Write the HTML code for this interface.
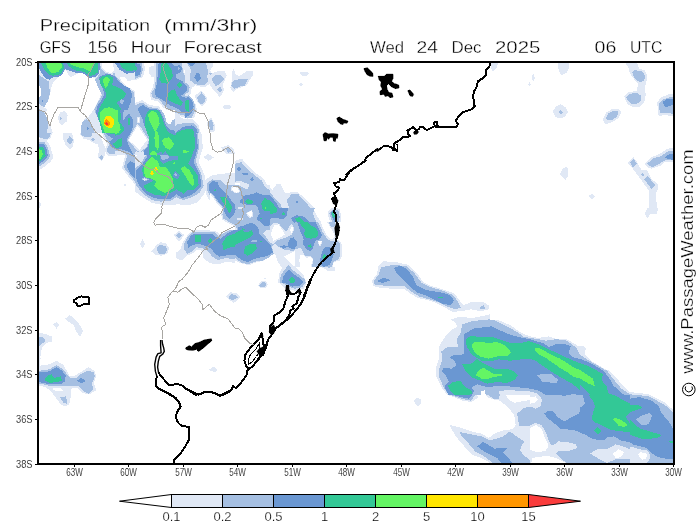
<!DOCTYPE html>
<html><head><meta charset="utf-8"><title>Precipitation</title>
<style>
html,body{margin:0;padding:0;background:#fff;}
svg{display:block;font-family:"Liberation Sans",sans-serif;}
.t{font-size:16px;fill:#000;stroke:#fff;stroke-width:0.3px;}
.ax{font-size:10px;fill:#000;stroke:#fff;stroke-width:0.15px;}
.cb{font-size:13px;fill:#000;stroke:#fff;stroke-width:0.25px;}
</style></head><body>
<svg width="700" height="525" viewBox="0 0 700 525">
<rect width="700" height="525" fill="#fff"/>
<defs><filter id="idf" x="-5%" y="-5%" width="110%" height="110%"><feOffset dx="0" dy="0"/></filter><clipPath id="c0"><rect x="35.0" y="58.0" width="100.0" height="75.0"/></clipPath>
<clipPath id="c1"><rect x="135.0" y="58.0" width="100.0" height="75.0"/></clipPath>
<clipPath id="c2"><rect x="235.0" y="58.0" width="100.0" height="75.0"/></clipPath>
<clipPath id="c3"><rect x="35.0" y="133.0" width="100.0" height="75.0"/></clipPath>
<clipPath id="c4"><rect x="135.0" y="133.0" width="100.0" height="75.0"/></clipPath>
<clipPath id="c5"><rect x="235.0" y="133.0" width="100.0" height="75.0"/></clipPath>
<clipPath id="c6"><rect x="135.0" y="208.0" width="100.0" height="75.0"/></clipPath>
<clipPath id="c7"><rect x="235.0" y="208.0" width="100.0" height="75.0"/></clipPath>
<clipPath id="c8"><rect x="335.0" y="195.0" width="35.0" height="75.0"/></clipPath>
<clipPath id="c9"><rect x="35.0" y="283.0" width="100.0" height="75.0"/></clipPath>
<clipPath id="c10"><rect x="135.0" y="283.0" width="100.0" height="75.0"/></clipPath>
<clipPath id="c11"><rect x="235.0" y="283.0" width="100.0" height="75.0"/></clipPath>
<clipPath id="c12"><rect x="35.0" y="358.0" width="100.0" height="75.0"/></clipPath>
<clipPath id="c13"><rect x="370.0" y="245.0" width="120.0" height="90.0"/></clipPath>
<clipPath id="c14"><rect x="580.0" y="58.0" width="100.0" height="75.0"/></clipPath>
<clipPath id="c15"><rect x="480.0" y="58.0" width="100.0" height="75.0"/></clipPath>
<clipPath id="c16"><rect x="580.0" y="133.0" width="100.0" height="75.0"/></clipPath>
<clipPath id="c17"><rect x="580.0" y="208.0" width="100.0" height="75.0"/></clipPath>
<clipPath id="c18"><rect x="480.0" y="133.0" width="100.0" height="75.0"/></clipPath>
<clipPath id="c19"><rect x="430.0" y="320.0" width="100.0" height="75.0"/></clipPath>
<clipPath id="c20"><rect x="530.0" y="320.0" width="100.0" height="75.0"/></clipPath>
<clipPath id="c21"><rect x="580.0" y="370.0" width="100.0" height="75.0"/></clipPath>
<clipPath id="c22"><rect x="430.0" y="395.0" width="100.0" height="75.0"/></clipPath>
<clipPath id="c23"><rect x="530.0" y="395.0" width="100.0" height="75.0"/></clipPath>
<clipPath id="c24"><rect x="630.0" y="445.0" width="45.0" height="20.0"/></clipPath>
<clipPath id="c25"><rect x="0.0" y="0.0" width="700.0" height="525.0"/></clipPath>
<clipPath id="c26"><rect x="115.0" y="110.0" width="60.0" height="45.0"/></clipPath>
<clipPath id="c27"><rect x="210.0" y="185.0" width="60.0" height="45.0"/></clipPath>
<clipPath id="c28"><rect x="295.0" y="222.0" width="60.0" height="45.0"/></clipPath>
<clipPath id="c29"><rect x="185.0" y="63.0" width="80.0" height="55.0"/></clipPath><clipPath id="mc"><rect x="39" y="63" width="634.5" height="400.5"/></clipPath></defs>
<g id="map" clip-path="url(#mc)" shape-rendering="crispEdges">
<g clip-path="url(#c0)">
<polygon fill="#e0e8f5" points="35.0,58.0 135.0,58.0 135.0,133.0 35.0,133.0"/>
<polygon fill="#ffffff" points="65.7,69.7 70.0,77.3 77.9,73.4 84.3,73.0 88.6,76.3 95.0,78.0 99.6,85.1 102.4,91.6 98.6,99.4 95.0,107.3 91.4,113.0 87.9,117.3 84.3,119.1 82.4,124.4 80.4,133.0 52.9,133.0 50.0,125.1 47.9,119.4 45.0,114.0 47.1,109.7 43.9,107.0 48.6,99.4 50.7,90.9 52.4,83.7 56.4,79.4 61.0,75.1 63.6,71.6"/>
<polygon fill="#e0e8f5" points="57.9,118.0 60.0,112.3 65.0,110.9 67.6,115.1 66.7,121.6 62.1,125.1 59.0,122.3"/>
<polygon fill="#a5bfe2" points="59.7,117.0 62.4,118.3 60.0,119.9"/>
<polygon fill="#ffffff" points="101.4,63.0 112.9,63.0 115.0,69.4 111.4,73.7 106.4,71.6 102.1,68.0"/>
<polygon fill="#ffffff" points="119.3,77.3 124.3,76.6 127.9,80.9 135.0,79.4 135.0,91.6 130.7,88.7 126.4,85.9 122.1,82.3"/>
<polygon fill="#ffffff" points="39.3,85.9 41.4,90.1 40.7,95.9 39.3,97.3"/>
<polygon fill="#a5bfe2" points="39.3,63.0 100.7,63.0 100.0,73.7 95.0,79.4 97.9,86.6 102.1,95.1 97.9,102.3 94.3,109.4 96.4,115.1 102.1,120.9 106.4,133.0 135.0,133.0 135.0,100.9 133.6,90.9 129.3,86.6 123.6,83.7 119.3,79.4 115.0,75.1 112.1,63.0 135.0,63.0 135.0,58.0 35.0,58.0 35.0,63.0"/>
<polygon fill="#a5bfe2" points="39.3,75.1 45.7,79.4 49.3,81.6 49.3,86.6 50.0,93.7 47.9,100.9 44.3,107.3 41.4,105.9 39.3,103.7 39.3,97.3 40.7,95.9 41.4,90.1 39.3,85.9"/>
<polygon fill="#a5bfe2" points="82.9,120.9 86.7,119.1 90.4,121.6 92.4,126.6 95.0,133.0 81.4,133.0 81.0,126.6"/>
<polygon fill="#a5bfe2" points="39.3,109.4 43.6,110.9 47.1,118.0 48.6,125.1 46.4,133.0 39.3,133.0"/>
<polygon fill="#e0e8f5" points="100.4,63.0 113.9,63.0 116.1,69.7 112.1,75.1 106.1,73.0 101.0,68.7"/>
<polygon fill="#ffffff" points="101.9,63.0 112.4,63.0 114.4,69.4 111.3,73.4 106.4,71.6 102.4,68.0"/>
<polygon fill="#e0e8f5" points="117.9,76.3 124.7,75.4 128.6,79.4 135.0,78.0 135.0,93.0 130.4,90.1 125.9,87.3 121.3,83.4"/>
<polygon fill="#ffffff" points="119.6,77.6 124.3,76.9 127.9,81.1 135.0,79.7 135.0,91.1 130.7,88.4 126.4,85.9 122.4,82.3"/>
<polygon fill="#e0e8f5" points="120.7,98.7 124.3,100.9 122.1,105.1 119.3,102.3"/>
<polygon fill="#6a97d2" points="39.3,63.0 39.3,68.7 42.1,73.7 45.7,78.7 49.3,79.7 53.6,77.3 59.3,76.6 62.9,73.7 65.0,68.7 67.1,70.1 70.7,71.1 75.0,72.6 80.7,72.6 85.0,74.0 88.6,77.7 95.0,77.3 99.3,73.0 100.0,63.0"/>
<polygon fill="#6a97d2" points="98.6,78.0 102.1,75.1 109.3,73.7 115.0,76.6 119.3,81.6 125.0,85.9 130.0,88.7 132.1,95.1 130.7,102.3 127.9,109.4 126.4,118.0 129.3,125.1 133.6,133.0 103.6,133.0 97.9,118.0 95.7,112.3 97.9,105.1 102.1,99.4 104.3,93.7 102.1,86.6"/>
<polygon fill="#6a97d2" points="41.9,99.9 43.9,101.1 41.9,102.4"/>
<polygon fill="#6a97d2" points="86.7,127.0 89.6,128.7 87.0,130.1"/>
<polygon fill="#6a97d2" points="115.0,63.0 135.0,63.0 135.0,72.3 126.4,73.7 119.3,69.4"/>
<polygon fill="#a5bfe2" points="120.7,98.7 124.3,100.9 122.1,105.1 119.3,102.3"/>
<polygon fill="#a5bfe2" points="126.4,115.1 130.0,112.3 133.6,118.0 135.0,125.1 135.0,133.0 132.1,133.0 127.9,123.7"/>
<polygon fill="#33c896" points="40.7,63.0 43.6,68.3 47.9,74.0 52.1,75.7 58.6,75.1 62.1,72.3 64.3,67.3 63.1,63.0"/>
<polygon fill="#33c896" points="67.1,63.0 97.9,63.0 97.9,72.3 94.3,75.1 89.3,75.9 85.0,72.3 80.7,71.1 75.7,70.6 71.4,68.0 68.6,65.9"/>
<polygon fill="#33c896" points="99.3,79.4 102.9,75.9 109.3,75.1 113.6,78.0 112.1,85.1 116.4,86.6 120.7,88.7 126.4,93.7 123.6,98.0 119.3,100.9 116.4,102.3 119.3,106.6 122.1,110.9 120.7,118.0 122.1,125.1 123.6,133.0 102.1,133.0 97.9,115.1 99.3,108.0 103.6,100.9 106.4,96.6 105.0,89.4 100.7,85.1"/>
<polygon fill="#33c896" points="119.3,63.0 135.0,63.0 135.0,70.1 127.9,71.6 122.1,68.0"/>
<polygon fill="#33c896" points="128.6,118.7 129.6,118.0 129.9,124.4 128.7,124.4"/>
<polygon fill="#64f564" points="45.7,63.0 61.4,63.0 62.1,67.3 57.9,72.3 51.4,73.0 47.9,68.7"/>
<polygon fill="#64f564" points="69.3,63.0 94.3,63.0 91.4,68.0 89.3,71.6 85.0,68.7 80.7,68.0 76.4,66.6 72.1,65.1"/>
<polygon fill="#64f564" points="102.9,79.4 106.4,76.6 110.0,79.4 107.9,85.1 105.7,88.7 103.6,83.7"/>
<polygon fill="#64f564" points="100.0,113.0 103.6,108.7 109.3,107.3 115.0,109.4 118.6,115.1 119.3,122.3 120.7,129.4 115.0,133.0 105.0,133.0 102.1,125.1 100.0,119.4"/>
<polygon fill="#ffe600" points="103.6,120.9 106.4,115.9 110.7,115.9 113.6,119.4 114.3,124.4 111.4,128.0 106.4,127.3 104.3,124.4"/>
<polygon fill="#ff9600" points="104.0,123.0 106.4,118.7 108.6,120.9 110.7,123.0 109.3,125.9 106.4,126.3"/>
<polygon fill="#fa3c3c" points="105.0,123.7 106.7,121.6 108.6,124.0 106.4,125.4"/>
</g>
<g clip-path="url(#c1)">
<polygon fill="#e0e8f5" points="135.0,58.0 143.6,58.0 145.0,69.4 142.9,77.3 135.0,80.1"/>
<polygon fill="#e0e8f5" points="148.6,68.0 152.1,65.9 156.4,66.6 156.4,75.1 152.1,77.3 149.3,73.7"/>
<polygon fill="#e0e8f5" points="154.3,58.0 185.0,58.0 184.3,72.3 188.1,78.0 191.9,86.6 191.0,93.4 188.1,96.9 193.3,99.1 196.4,106.6 194.3,114.9 188.1,118.7 181.9,116.9 176.1,114.9 169.0,111.6 162.9,107.3 158.6,101.6 151.4,99.7 149.6,93.7 153.3,85.9 154.7,75.1"/>
<polygon fill="#e0e8f5" points="182.1,63.0 235.0,63.0 235.0,93.7 226.4,92.3 220.7,96.6 215.0,93.7 209.3,86.6 206.4,90.9 207.9,99.4 203.6,106.6 197.9,105.1 195.0,100.9 192.1,95.1 190.0,86.6"/>
<polygon fill="#ffffff" points="183.6,70.1 187.9,68.7 190.7,73.7 190.0,79.4 186.4,78.0"/>
<polygon fill="#ffffff" points="206.4,63.0 211.4,63.0 210.0,70.1 207.1,68.0"/>
<polygon fill="#ffffff" points="224.3,63.0 235.0,63.0 235.0,70.9 229.3,69.4"/>
<polygon fill="#e0e8f5" points="222.1,107.7 226.4,105.1 230.7,107.3 226.4,110.1"/>
<polygon fill="#e0e8f5" points="135.0,103.0 142.1,100.1 150.0,105.1 158.6,106.3 165.3,114.4 167.6,122.3 166.7,133.0 135.0,133.0"/>
<polygon fill="#e0e8f5" points="168.6,117.3 176.4,114.4 182.9,118.7 192.9,119.4 198.6,125.1 200.7,133.0 168.6,133.0"/>
<polygon fill="#e0e8f5" points="206.4,123.0 211.4,117.3 215.3,125.1 214.3,132.3 209.3,131.6"/>
<polygon fill="#a5bfe2" points="135.0,63.0 141.4,63.0 142.9,69.4 140.7,76.6 135.0,78.7"/>
<polygon fill="#a5bfe2" points="156.4,63.0 182.1,63.0 182.9,72.3 186.4,78.0 190.0,86.6 189.3,92.3 185.0,96.6 191.4,99.4 194.3,106.6 192.1,113.7 187.9,116.6 182.1,115.1 176.4,113.0 169.3,109.4 163.6,105.1 159.3,99.4 152.9,98.0 151.4,93.7 155.0,86.6 156.4,75.1"/>
<polygon fill="#a5bfe2" points="187.1,63.0 206.4,63.0 208.6,72.3 206.4,79.4 202.1,85.1 195.0,84.4 191.4,79.4 192.1,72.3 189.3,68.0"/>
<polygon fill="#a5bfe2" points="211.4,79.4 217.1,74.4 223.6,79.4 217.9,85.9"/>
<polygon fill="#a5bfe2" points="217.1,90.1 220.0,87.3 222.4,90.1 220.0,93.0"/>
<polygon fill="#a5bfe2" points="197.1,97.3 201.4,92.3 205.7,98.7 201.9,104.4"/>
<polygon fill="#a5bfe2" points="209.0,73.0 212.1,72.3 211.4,75.4"/>
<polygon fill="#a5bfe2" points="230.7,83.7 235.0,79.4 235.0,91.6 232.9,90.1"/>
<polygon fill="#a5bfe2" points="135.0,105.1 142.1,102.3 149.3,107.3 157.9,108.0 163.6,115.1 166.4,122.3 172.1,128.0 174.3,133.0 135.0,133.0"/>
<polygon fill="#ffffff" points="135.0,115.1 137.6,118.0 137.0,125.1 135.0,126.9"/>
<polygon fill="#a5bfe2" points="165.7,126.0 173.6,130.3 176.4,124.6 183.6,123.1 193.6,123.1 198.6,128.9 199.6,133.0 165.7,133.0"/>
<polygon fill="#a5bfe2" points="208.6,122.3 211.4,119.4 213.6,125.1 212.9,130.1 210.0,129.4"/>
<polygon fill="#6a97d2" points="135.0,63.0 140.0,64.4 141.4,69.4 139.3,75.1 135.0,76.6"/>
<polygon fill="#6a97d2" points="158.6,63.0 172.1,63.0 175.0,66.6 179.3,65.1 182.1,68.0 180.7,72.3 176.4,74.0 176.4,78.0 182.1,80.9 186.4,86.6 185.7,92.3 180.7,95.9 187.9,98.7 192.1,105.1 191.4,112.3 188.6,115.1 183.6,113.0 176.4,108.0 169.3,105.1 162.9,100.1 155.7,96.6 155.0,90.9 157.1,82.3 157.9,72.3"/>
<polygon fill="#6a97d2" points="194.3,76.6 197.1,72.3 200.7,76.6 197.9,82.3"/>
<polygon fill="#6a97d2" points="189.3,63.0 196.4,63.0 193.6,66.6"/>
<polygon fill="#6a97d2" points="232.4,83.0 235.0,81.6 235.0,88.7 233.3,87.3"/>
<polygon fill="#6a97d2" points="137.9,108.0 142.9,105.1 149.3,108.7 156.4,109.4 162.1,115.1 165.0,122.3 170.7,129.4 172.4,133.0 138.1,133.0 138.6,125.1 138.1,118.0"/>
<polygon fill="#6a97d2" points="175.0,133.0 177.9,130.9 183.6,126.7 192.1,125.3 196.4,128.9 197.9,133.0"/>
<polygon fill="#a5bfe2" points="177.9,66.9 180.4,68.3 178.4,70.0"/>
<polygon fill="#33c896" points="135.0,65.9 137.1,68.0 136.4,70.9 135.0,71.6"/>
<polygon fill="#33c896" points="160.7,63.7 167.1,63.0 172.1,70.9 172.9,76.6 169.3,81.6 167.1,83.7 161.4,83.0 159.3,79.4 160.7,72.3"/>
<polygon fill="#33c896" points="176.4,85.1 179.3,81.6 182.1,85.1 179.3,88.0"/>
<polygon fill="#33c896" points="167.1,95.1 171.4,90.1 175.0,89.4 177.1,95.1 180.0,99.4 182.9,102.3 180.7,105.9 175.7,103.7 170.7,101.6 167.9,99.4"/>
<polygon fill="#33c896" points="185.0,100.9 188.6,100.1 189.3,106.6 188.6,111.6 186.4,106.6"/>
<polygon fill="#33c896" points="145.0,115.1 149.3,110.1 156.4,110.9 160.7,118.0 163.6,125.1 168.6,133.0 145.0,133.0 143.6,123.7"/>
<polygon fill="#33c896" points="176.4,133.0 182.1,130.1 187.9,128.7 192.9,129.4 194.3,133.0"/>
<polygon fill="#64f564" points="147.9,116.6 151.4,110.9 156.4,113.7 158.6,120.9 159.3,129.4 158.6,133.0 153.6,133.0 150.7,125.1"/>
</g>
<g clip-path="url(#c2)">
<polygon fill="#e0e8f5" points="235.0,73.7 240.7,76.6 247.9,70.9 253.6,72.3 252.1,79.4 246.4,86.6 239.3,89.4 235.0,88.7"/>
<polygon fill="#a5bfe2" points="235.0,79.4 247.9,79.1 243.6,86.6 235.0,87.3"/>
<polygon fill="#e0e8f5" points="300.0,71.6 307.9,71.6 309.0,73.7 306.4,75.9 300.7,75.4"/>
<polygon fill="#e0e8f5" points="299.3,84.4 301.4,82.3 302.9,85.1 301.0,86.6"/>
</g>
<g clip-path="url(#c3)">
<polygon fill="#e0e8f5" points="39.3,138.7 45.7,138.4 50.0,145.9 53.6,157.3 50.0,162.3 43.9,167.0 39.3,169.9"/>
<polygon fill="#e0e8f5" points="39.3,133.0 52.1,133.0 50.4,138.7 45.3,140.4 41.4,139.0 39.3,138.4"/>
<polygon fill="#e0e8f5" points="62.9,133.0 72.1,133.0 73.9,140.1 73.0,145.9 70.0,149.6 65.4,144.4 62.9,138.7"/>
<polygon fill="#e0e8f5" points="79.3,133.0 97.9,133.0 102.1,140.1 105.0,147.3 105.0,154.4 102.1,161.3 97.6,157.3 99.3,150.1 97.9,144.4 93.6,143.0 89.3,140.1 83.6,138.7"/>
<polygon fill="#e0e8f5" points="101.9,133.0 135.0,133.0 135.0,184.4 127.9,175.9 121.9,168.0 124.3,158.7 125.7,155.9 120.7,154.1 115.0,156.3 108.6,156.3 104.3,150.9 107.1,144.4 104.3,138.7"/>
<polygon fill="#e0e8f5" points="123.6,185.1 125.0,183.0 126.4,185.1 125.0,187.0"/>
<polygon fill="#e0e8f5" points="39.3,201.3 40.7,203.0 40.4,208.0 39.3,208.0"/>
<polygon fill="#a5bfe2" points="39.3,141.6 44.3,141.6 47.9,147.3 50.0,156.6 46.4,161.6 39.3,166.6"/>
<polygon fill="#a5bfe2" points="39.3,133.0 50.7,133.0 49.3,138.0 45.0,139.4 41.4,138.0 39.3,137.3"/>
<polygon fill="#a5bfe2" points="66.4,140.1 70.0,135.9 73.3,140.1 70.0,145.1"/>
<polygon fill="#a5bfe2" points="80.7,133.0 92.1,133.0 91.4,136.6 85.0,137.3 81.4,135.1"/>
<polygon fill="#a5bfe2" points="91.1,139.4 92.9,137.0 94.7,139.4 92.9,141.9"/>
<polygon fill="#a5bfe2" points="99.3,157.3 101.4,154.4 103.6,157.3 101.4,159.9"/>
<polygon fill="#a5bfe2" points="103.6,133.0 135.0,133.0 135.0,181.6 129.3,174.4 123.6,167.3 126.4,158.7 127.9,154.4 120.7,152.3 115.0,154.4 109.3,154.4 106.4,150.1 109.3,144.4 106.4,138.7"/>
<polygon fill="#6a97d2" points="39.3,143.7 43.6,143.7 46.4,148.7 47.9,155.9 44.3,160.1 39.3,164.4"/>
<polygon fill="#6a97d2" points="105.0,133.0 133.6,133.0 135.0,141.6 135.0,157.3 129.3,154.4 123.6,150.9 116.4,148.7 112.1,146.6 109.3,141.6 112.9,138.7"/>
<polygon fill="#6a97d2" points="126.4,165.9 130.0,160.9 135.0,163.7 135.0,178.7 130.7,174.4"/>
<polygon fill="#33c896" points="39.3,146.6 42.9,146.6 45.0,150.9 45.7,155.9 42.1,159.4 39.3,161.6"/>
<polygon fill="#33c896" points="112.9,143.7 120.7,138.0 122.1,141.6 121.4,147.3 116.4,148.4"/>
<polygon fill="#33c896" points="109.3,133.0 122.1,133.0 119.3,134.7 112.1,134.4"/>
<polygon fill="#64f564" points="39.3,149.4 41.4,150.1 42.9,154.4 40.7,158.7 39.3,159.4"/>
<polygon fill="#64f564" points="115.0,133.0 117.9,133.0 116.4,134.1"/>
</g>
<g clip-path="url(#c4)">
<polygon fill="#e0e8f5" points="135.0,133.0 201.4,133.0 202.9,147.3 198.6,161.6 204.3,174.4 207.1,187.3 202.9,195.9 197.1,202.3 189.3,205.1 177.9,204.4 163.6,205.1 152.1,203.0 142.9,197.3 135.0,191.6"/>
<polygon fill="#ffffff" points="135.0,140.9 139.3,139.4 142.1,145.9 140.0,154.4 135.0,156.6"/>
<polygon fill="#e0e8f5" points="205.0,180.1 210.7,175.9 220.7,173.7 235.0,173.0 235.0,208.0 215.0,208.0 209.3,200.1 205.7,193.0"/>
<polygon fill="#e0e8f5" points="221.4,147.3 227.9,145.1 233.6,148.7 235.0,154.4 226.4,154.4 222.9,150.9"/>
<polygon fill="#e0e8f5" points="203.3,157.3 207.9,154.1 213.9,157.3 208.6,160.9"/>
<polygon fill="#a5bfe2" points="142.1,133.0 197.9,133.0 199.3,147.3 195.7,161.6 201.4,174.4 203.6,185.9 199.3,193.0 192.1,197.3 183.6,200.1 176.4,197.3 170.7,200.9 160.7,201.6 152.1,200.1 143.6,194.4 136.4,185.9 135.0,181.6 135.0,168.7 140.7,163.7 146.4,154.4 147.1,144.4 145.0,137.3"/>
<polygon fill="#a5bfe2" points="207.1,183.0 212.1,179.4 220.7,180.1 227.9,187.3 235.0,195.9 235.0,208.0 219.3,208.0 210.7,197.3 207.1,190.1"/>
<polygon fill="#a5bfe2" points="225.0,148.7 228.6,147.3 232.1,150.9 228.6,153.0"/>
<polygon fill="#6a97d2" points="147.1,133.0 196.4,133.0 197.9,147.3 193.6,162.3 200.0,175.1 201.4,185.9 196.4,191.6 189.3,195.9 182.1,198.0 176.4,194.4 170.7,198.7 160.7,199.4 152.1,197.3 145.0,193.0 138.6,184.4 135.7,177.3 136.4,170.1 141.4,165.1 147.1,157.3 148.6,147.3"/>
<polygon fill="#6a97d2" points="208.6,184.4 212.9,180.9 217.9,182.3 219.3,188.7 226.4,194.4 233.6,201.6 235.0,208.0 220.7,208.0 212.9,195.9 208.6,190.1"/>
<polygon fill="#33c896" points="149.3,133.0 168.6,133.0 174.3,136.7 176.4,133.0 194.3,133.0 195.0,147.3 191.4,157.3 187.9,163.7 192.1,167.3 197.9,175.9 198.6,185.1 193.6,190.1 187.9,190.1 183.6,193.7 176.4,189.4 170.7,193.0 163.6,195.9 153.6,194.4 146.4,190.9 143.6,185.9 149.3,183.0 153.6,180.1 149.3,178.7 142.9,175.9 142.1,168.7 145.7,163.0 150.7,156.6 152.9,150.1 150.0,141.6"/>
<polygon fill="#6a97d2" points="160.0,154.4 163.6,150.1 167.9,151.6 169.3,155.9 177.9,155.9 178.6,159.4 169.3,160.9 163.6,163.7 160.0,160.9"/>
<polygon fill="#a5bfe2" points="160.4,154.4 164.3,150.9 167.6,152.3 169.0,158.0 163.6,160.1 160.7,158.7"/>
<polygon fill="#6a97d2" points="172.9,174.4 175.7,170.9 180.0,175.9 177.1,179.4 173.6,177.3"/>
<polygon fill="#a5bfe2" points="173.9,174.4 175.7,172.3 177.6,175.1 175.3,176.6"/>
<polygon fill="#a5bfe2" points="141.4,178.7 144.3,177.3 149.3,179.4 145.0,181.6"/>
<polygon fill="#e0e8f5" points="142.9,179.0 144.7,178.1 147.6,179.6 144.7,180.7"/>
<polygon fill="#33c896" points="214.3,189.4 216.1,190.9 214.6,192.3"/>
<polygon fill="#33c896" points="220.0,197.3 226.4,198.0 232.1,208.0 226.4,208.0"/>
<polygon fill="#64f564" points="153.6,137.3 156.4,133.0 159.3,134.4 160.0,141.6 158.6,150.1 156.4,155.9 153.6,151.6 152.9,144.4"/>
<polygon fill="#64f564" points="162.1,143.0 165.0,138.0 170.0,137.3 172.1,140.9 174.3,145.9 170.7,150.1 165.7,148.7 163.6,146.6"/>
<polygon fill="#64f564" points="182.9,149.4 189.3,151.6 183.6,153.7"/>
<polygon fill="#64f564" points="174.3,161.6 175.7,163.3 174.3,164.7 172.9,163.3"/>
<polygon fill="#64f564" points="143.6,167.3 147.9,160.1 152.1,156.6 157.9,161.6 160.0,167.3 165.7,166.6 169.3,171.6 172.9,178.7 173.6,185.9 170.0,190.1 165.0,193.0 157.9,189.4 154.3,185.9 156.4,181.6 152.1,178.7 145.0,177.3"/>
<polygon fill="#64f564" points="180.7,168.7 184.3,165.9 189.3,170.1 192.9,175.9 194.3,183.0 192.9,186.6 188.6,181.6 184.3,174.4"/>
<polygon fill="#ffe600" points="152.9,168.7 156.4,167.0 157.9,169.4 155.7,170.9"/>
<polygon fill="#ffe600" points="150.0,173.7 152.1,170.4 153.9,173.7 152.1,175.9"/>
</g>
<g clip-path="url(#c5)">
<polygon fill="#e0e8f5" points="235.0,160.9 242.1,158.7 246.4,164.4 253.6,171.6 263.6,178.7 267.9,185.9 272.1,190.1 276.4,184.4 280.7,184.4 285.0,193.0 292.1,192.3 297.9,192.3 303.6,197.3 309.3,203.0 315.0,208.0 235.0,208.0"/>
<polygon fill="#a5bfe2" points="235.0,163.7 241.4,162.3 246.4,168.0 253.6,174.4 262.1,180.9 265.7,188.0 270.7,193.0 276.4,200.1 280.7,204.4 282.1,208.0 235.0,208.0"/>
<polygon fill="#a5bfe2" points="286.4,200.1 292.1,193.7 297.9,193.7 303.6,200.1 310.7,208.0 289.3,208.0"/>
<polygon fill="#e0e8f5" points="235.0,181.6 240.7,180.9 248.6,184.4 247.9,189.4 240.7,190.1 235.0,188.0"/>
<polygon fill="#ffffff" points="235.0,183.0 239.3,183.0 241.4,186.6 238.6,188.7 235.0,188.0"/>
<polygon fill="#6a97d2" points="236.4,168.7 239.0,166.1 241.4,168.7 239.0,171.9"/>
<polygon fill="#6a97d2" points="242.1,173.3 247.9,173.3 248.6,175.1 242.9,175.1"/>
<polygon fill="#6a97d2" points="250.0,179.4 252.1,177.0 254.3,179.4 252.1,181.9"/>
<polygon fill="#6a97d2" points="295.7,201.9 297.1,200.4 298.6,202.3 296.9,203.4"/>
<polygon fill="#6a97d2" points="239.3,203.0 243.6,195.9 252.1,193.7 256.4,192.3 263.6,194.4 270.7,195.9 276.4,203.0 279.3,208.0 239.3,208.0"/>
<polygon fill="#33c896" points="245.0,201.6 248.6,199.0 253.6,201.6 249.3,204.4"/>
<polygon fill="#33c896" points="260.7,208.0 261.4,201.6 265.7,198.0 270.0,200.1 273.6,204.4 276.4,208.0"/>
<polygon fill="#64f564" points="264.3,208.0 265.3,206.6 266.4,208.0"/>
</g>
<g clip-path="url(#c6)">
<polygon fill="#e0e8f5" points="140.0,243.7 142.4,238.7 145.0,243.7 142.4,248.7"/>
<polygon fill="#e0e8f5" points="151.4,251.6 156.4,245.1 160.7,242.3 166.4,243.7 169.3,248.7 167.1,253.7 161.4,255.9 155.0,254.4"/>
<polygon fill="#e0e8f5" points="173.3,235.1 179.3,230.9 184.3,235.1 179.3,241.6"/>
<polygon fill="#e0e8f5" points="175.7,253.0 180.4,249.4 182.9,242.3 187.1,235.9 191.4,231.6 195.0,229.4 215.0,230.9 220.7,234.4 235.0,225.1 235.0,263.0 226.4,261.6 217.9,264.4 209.3,263.0 203.6,258.0 202.1,250.9 197.9,249.4 192.1,253.7 186.4,255.9 182.1,260.1 177.9,259.4 175.7,256.6"/>
<polygon fill="#e0e8f5" points="220.7,208.0 235.0,208.0 235.0,223.7 229.3,223.0 223.6,219.4 221.4,213.7"/>
<polygon fill="#a5bfe2" points="157.1,247.3 160.0,245.1 165.7,245.9 167.1,250.1 165.0,253.7 159.3,253.7 157.1,250.9"/>
<polygon fill="#a5bfe2" points="176.1,235.4 179.3,232.6 182.4,235.4 179.3,238.7"/>
<polygon fill="#a5bfe2" points="184.3,243.0 187.9,236.6 192.1,232.3 215.0,232.3 218.6,235.9 235.0,227.3 235.0,259.4 226.4,258.0 217.9,260.1 212.1,256.6 207.9,250.9 202.1,248.0 196.4,247.3 192.1,251.6 187.1,253.7 184.3,249.4"/>
<polygon fill="#a5bfe2" points="222.1,208.0 235.0,208.0 235.0,222.3 229.3,221.6 225.0,218.0 222.9,213.0"/>
<polygon fill="#6a97d2" points="187.1,242.3 190.0,236.6 193.6,233.7 212.1,233.7 216.4,237.3 220.7,238.7 227.9,233.0 235.0,229.4 235.0,255.1 227.9,255.1 219.3,256.6 215.0,253.7 210.7,248.0 205.0,245.9 197.9,243.7 192.1,245.1 188.6,248.0"/>
<polygon fill="#6a97d2" points="224.3,208.0 235.0,208.0 235.0,220.1 230.0,219.4 226.4,215.9"/>
<polygon fill="#33c896" points="195.0,235.1 200.7,235.1 201.0,241.6 195.0,241.6"/>
<polygon fill="#33c896" points="207.9,240.9 210.7,238.0 212.9,241.6 209.3,243.0"/>
<polygon fill="#33c896" points="222.1,243.7 226.4,236.6 233.6,233.7 235.0,233.7 235.0,246.6 227.9,248.0 223.6,250.1"/>
<polygon fill="#33c896" points="227.6,208.0 232.1,208.0 230.0,213.7"/>
</g>
<g clip-path="url(#c7)">
<polygon fill="#e0e8f5" points="235.0,208.0 312.9,208.0 317.1,216.6 322.9,223.7 327.9,230.9 332.1,236.6 335.0,240.9 335.0,270.9 327.9,270.9 320.7,266.6 315.0,265.1 310.7,260.9 303.6,255.1 297.9,249.4 292.1,252.3 283.6,256.6 289.3,262.3 296.4,268.0 303.6,275.1 306.4,283.0 277.9,283.0 279.3,273.7 282.1,268.0 277.9,262.3 275.0,253.7 269.3,256.6 263.6,260.9 256.4,262.3 249.3,265.1 242.1,263.7 235.0,260.9"/>
<polygon fill="#ffffff" points="284.3,257.3 292.1,253.4 297.9,251.6 302.1,255.9 297.9,258.0 292.1,257.3 287.9,260.1"/>
<polygon fill="#e0e8f5" points="260.7,280.1 265.0,277.7 267.9,280.1 267.1,283.0 261.4,283.0"/>
<polygon fill="#a5bfe2" points="235.0,208.0 315.0,208.0 312.9,213.7 315.0,219.4 320.7,229.4 322.1,236.6 319.3,240.9 315.0,243.7 313.6,249.4 309.3,252.3 303.6,249.4 302.1,243.7 297.9,249.4 292.1,250.9 283.6,249.4 277.9,246.6 275.0,243.7 272.1,246.6 273.6,253.7 269.3,257.3 262.1,260.9 255.0,261.6 247.9,264.4 240.7,262.3 235.0,258.0"/>
<polygon fill="#a5bfe2" points="319.3,255.1 323.6,246.6 329.3,246.6 335.0,249.4 335.0,265.1 329.3,268.0 323.6,265.1 320.0,260.9"/>
<polygon fill="#a5bfe2" points="280.0,283.0 280.7,275.1 285.0,269.4 288.6,264.4 292.1,269.4 299.3,275.1 305.0,279.4 305.7,283.0"/>
<polygon fill="#e0e8f5" points="262.9,233.0 267.9,229.4 273.6,223.0 279.3,223.7 282.1,228.0 286.4,231.6 289.3,226.6 292.1,223.7 294.3,229.4 291.4,235.1 285.0,238.0 277.9,240.1 272.9,244.4 269.3,241.6 265.7,236.6"/>
<polygon fill="#ffffff" points="270.7,233.7 274.3,225.1 278.6,224.4 282.1,229.4 285.0,234.4 279.3,238.0 273.6,240.9"/>
<polygon fill="#ffffff" points="290.0,229.4 292.1,225.9 293.3,229.4 291.4,233.7"/>
<polygon fill="#ffffff" points="247.1,212.3 250.7,210.9 252.1,215.1 249.3,216.6"/>
<polygon fill="#e0e8f5" points="235.0,208.0 240.7,208.0 241.4,210.9 237.9,212.3 235.0,211.6"/>
<polygon fill="#e0e8f5" points="235.0,216.6 240.7,217.3 239.3,220.1 235.0,220.1"/>
<polygon fill="#ffffff" points="318.6,241.6 321.4,241.1 320.7,245.9 319.0,245.1"/>
<polygon fill="#e0e8f5" points="327.9,212.1 332.1,207.9 335.0,208.0 335.0,227.9 330.7,223.6 328.6,217.9"/>
<polygon fill="#a5bfe2" points="329.6,212.9 332.9,209.3 335.0,209.4 335.0,225.7 332.1,221.4"/>
<polygon fill="#6a97d2" points="256.4,218.7 258.6,214.4 257.9,208.0 287.9,208.0 287.1,215.1 283.6,219.4 276.4,218.0 269.3,218.7 266.4,225.1 260.7,222.3"/>
<polygon fill="#6a97d2" points="290.7,218.0 296.4,215.1 303.6,216.6 310.7,223.7 317.9,229.4 321.4,234.4 319.3,238.7 313.6,241.6 312.9,248.0 309.3,250.9 305.0,248.0 303.6,242.3 300.7,236.6 297.9,226.6 293.6,222.3"/>
<polygon fill="#6a97d2" points="235.0,228.0 240.7,225.9 249.3,223.7 253.6,222.3 258.6,226.6 259.3,233.7 263.6,238.0 270.7,245.1 272.9,252.3 267.9,255.9 260.7,257.3 255.0,258.7 247.9,262.3 240.7,259.4 235.0,255.1"/>
<polygon fill="#6a97d2" points="287.9,243.7 290.0,238.7 293.6,237.3 297.9,243.7 296.4,248.7 292.1,249.4 288.6,247.3"/>
<polygon fill="#6a97d2" points="280.0,246.6 283.6,245.1 287.9,246.3 283.6,248.7"/>
<polygon fill="#6a97d2" points="320.7,256.6 324.3,248.7 329.3,248.0 335.0,250.9 335.0,263.7 329.3,265.9 324.3,263.7"/>
<polygon fill="#6a97d2" points="282.1,283.0 282.9,276.6 288.6,269.4 295.0,275.1 301.4,279.4 303.6,283.0"/>
<polygon fill="#6a97d2" points="332.1,208.0 335.0,208.0 335.0,220.9 332.9,216.6 331.4,212.3"/>
<polygon fill="#a5bfe2" points="250.7,240.9 256.4,239.4 257.1,241.6 251.4,242.3"/>
<polygon fill="#33c896" points="262.1,208.0 277.1,208.0 276.4,212.3 270.7,214.4 265.7,213.0"/>
<polygon fill="#33c896" points="281.4,213.7 283.6,212.0 285.3,214.0 283.3,215.4"/>
<polygon fill="#33c896" points="259.6,218.7 261.4,217.7 260.7,219.7"/>
<polygon fill="#33c896" points="295.0,218.0 299.3,217.3 305.0,222.3 312.1,226.6 317.9,231.6 317.9,235.9 312.9,238.7 306.4,238.7 304.3,232.3 300.0,226.6"/>
<polygon fill="#33c896" points="308.1,246.3 310.4,244.0 312.1,246.6 310.0,248.3"/>
<polygon fill="#33c896" points="235.0,233.0 239.3,230.9 242.1,228.7 244.3,231.6 249.3,231.6 252.1,229.4 252.9,234.4 249.3,238.0 242.1,241.6 235.0,244.9"/>
<polygon fill="#33c896" points="243.6,250.9 245.7,245.9 250.7,243.7 255.7,244.4 257.1,248.0 253.6,252.3 247.9,255.9 244.3,253.7"/>
<polygon fill="#33c896" points="259.6,241.6 261.4,240.1 261.9,242.6"/>
<polygon fill="#33c896" points="322.1,257.3 325.0,254.0 327.9,256.6 324.3,260.9"/>
<polygon fill="#33c896" points="289.0,279.4 292.1,276.9 295.7,280.1 293.6,283.0 290.0,283.0"/>
<polygon fill="#33c896" points="333.6,209.4 335.0,208.7 335.0,216.6"/>
<polygon fill="#64f564" points="264.3,208.0 266.4,208.0 265.3,209.1"/>
</g>
<g clip-path="url(#c8)">
<polygon fill="#e0e8f5" points="327.9,212.1 332.1,207.9 339.3,208.6 341.4,216.4 340.7,225.0 335.7,227.9 330.7,223.6 328.6,217.9"/>
<polygon fill="#e0e8f5" points="333.6,237.9 339.3,240.7 341.4,247.9 340.7,256.4 338.6,260.7 333.6,266.4 332.1,270.0 326.4,270.0"/>
<polygon fill="#e0e8f5" points="377.1,270.0 382.9,262.1 393.6,262.1 405.0,265.0 405.0,270.0"/>
<polygon fill="#a5bfe2" points="329.6,212.9 332.9,209.3 338.6,210.0 340.0,216.4 339.3,223.6 335.7,225.7 332.1,221.4"/>
<polygon fill="#a5bfe2" points="333.6,242.1 338.6,243.6 340.0,249.3 339.3,255.0 335.7,257.9 333.6,260.7"/>
<polygon fill="#a5bfe2" points="385.0,270.0 390.7,265.0 397.9,263.6 405.0,265.7 405.0,270.0"/>
<polygon fill="#6a97d2" points="330.7,212.1 333.6,210.0 335.7,213.6 335.7,222.1 332.9,218.6"/>
<polygon fill="#6a97d2" points="333.6,249.3 337.1,250.7 336.4,255.0 334.3,256.4"/>
<polygon fill="#6a97d2" points="395.0,270.0 397.9,266.4 405.0,267.1 405.0,270.0"/>
<polygon fill="#33c896" points="331.9,212.1 333.3,211.0 335.0,216.4 333.6,217.9"/>
</g>
<g clip-path="url(#c9)">
<polygon fill="#e0e8f5" points="65.0,318.7 70.0,315.1 76.4,320.9 80.7,325.9 82.9,330.9 80.0,337.0 76.4,331.6 73.6,325.1 68.6,321.6"/>
<polygon fill="#e0e8f5" points="53.3,324.4 56.4,321.9 59.0,325.1 56.4,328.7"/>
<polygon fill="#e0e8f5" points="39.3,333.0 45.0,333.7 52.1,336.6 51.9,341.6 46.4,343.0 42.1,347.3 40.7,353.0 40.4,358.0 39.3,358.0"/>
<polygon fill="#a5bfe2" points="39.3,337.3 42.9,337.0 45.7,340.9 42.1,343.7 39.3,345.9"/>
</g>
<g clip-path="url(#c10)">
<polygon fill="#e0e8f5" points="225.0,296.6 229.3,290.9 235.0,290.9 235.0,303.0 230.0,302.3"/>
<polygon fill="#a5bfe2" points="226.4,296.6 230.0,292.3 235.0,292.3 235.0,301.6 230.7,300.9"/>
</g>
<g clip-path="url(#c11)">
<polygon fill="#e0e8f5" points="257.9,285.9 260.7,283.0 267.1,283.0 267.1,287.3 263.6,289.4 259.3,288.7"/>
<polygon fill="#a5bfe2" points="259.0,285.1 261.4,283.0 266.4,283.0 265.7,287.3 262.1,288.4"/>
<polygon fill="#e0e8f5" points="235.0,293.0 238.6,294.4 240.7,297.3 237.1,302.3 235.0,301.6"/>
<polygon fill="#a5bfe2" points="235.0,294.4 237.9,295.9 238.6,298.0 235.0,299.4"/>
<polygon fill="#e0e8f5" points="280.0,283.0 306.4,283.0 303.6,288.7 297.9,290.9 290.7,290.1 283.6,287.3"/>
<polygon fill="#a5bfe2" points="282.1,283.0 305.0,283.0 302.1,287.3 295.0,288.7 287.9,286.6"/>
<polygon fill="#6a97d2" points="285.0,283.0 302.1,283.0 299.3,285.9 292.1,286.6"/>
</g>
<g clip-path="url(#c12)">
<polygon fill="#e0e8f5" points="39.3,365.7 49.3,364.3 56.4,360.7 63.6,365.0 69.3,375.7 75.0,375.7 80.7,372.1 88.6,367.1 94.3,370.7 96.4,375.7 93.6,382.9 96.4,390.0 89.3,394.3 82.1,392.9 77.9,387.9 70.7,388.6 70.7,397.1 69.3,404.3 65.0,406.4 60.7,404.3 56.4,398.6 50.7,390.7 45.0,387.1 39.3,385.7"/>
<polygon fill="#e0e8f5" points="39.3,340.0 51.4,340.0 45.7,343.6 40.7,347.1 40.4,365.7 39.3,365.7"/>
<polygon fill="#a5bfe2" points="39.3,370.7 49.3,369.3 56.4,365.0 62.1,368.6 67.1,374.3 70.7,378.6 76.4,377.9 80.7,374.3 87.9,370.7 93.6,372.1 95.0,376.4 92.1,382.9 92.9,389.3 88.6,393.6 83.6,391.4 79.3,386.4 70.7,386.4 63.6,385.7 49.3,385.7 39.3,383.6"/>
<polygon fill="#ffffff" points="52.1,388.6 60.7,387.9 62.9,390.7 56.4,391.4"/>
<polygon fill="#a5bfe2" points="60.0,397.1 66.4,396.4 66.7,403.6 63.6,402.9"/>
<polygon fill="#a5bfe2" points="39.3,340.0 45.7,340.0 42.1,342.9 39.3,344.3"/>
<polygon fill="#6a97d2" points="39.3,372.1 49.3,371.4 56.4,367.1 62.1,370.7 65.7,375.7 65.0,381.4 60.7,384.3 49.3,384.3 39.3,382.1"/>
<polygon fill="#6a97d2" points="77.1,380.7 80.7,377.9 85.7,380.7 82.1,383.6"/>
<polygon fill="#33c896" points="44.3,380.0 47.1,375.7 51.4,374.3 54.3,377.9 60.7,376.4 62.1,380.7 56.4,382.1 49.3,382.9"/>
</g>
<g clip-path="url(#c13)">
<polygon fill="#e0e8f5" points="371.7,281.0 376.9,274.1 378.6,265.6 383.7,261.3 395.7,262.1 407.7,264.7 416.3,272.4 423.1,281.9 431.7,286.1 443.7,289.6 454.0,293.0 459.1,299.9 463.4,305.0 472.9,301.6 483.1,301.6 489.1,305.9 488.3,310.1 479.7,311.0 471.1,309.3 462.6,311.0 452.3,311.9 443.7,306.7 435.1,302.4 426.6,299.9 418.0,298.1 409.4,293.0 404.3,288.7 392.3,288.7 380.3,287.9 373.4,286.1"/>
<polygon fill="#e0e8f5" points="450.6,319.6 459.1,317.0 472.9,317.9 490.0,314.4 490.0,335.0 448.0,335.0 455.7,330.7 457.4,323.9"/>
<polygon fill="#a5bfe2" points="373.4,281.0 378.6,275.0 381.1,267.3 394.0,264.7 406.9,266.4 414.6,273.3 421.4,282.7 430.0,287.0 442.0,290.4 452.3,294.7 457.4,300.7 460.9,307.6 455.7,309.3 447.1,306.7 438.6,302.4 428.3,299.0 418.9,296.4 411.1,291.3 404.3,286.1 392.3,286.1 380.3,285.3 374.3,284.4"/>
<polygon fill="#a5bfe2" points="478.9,308.4 483.5,305.0 485.7,309.3"/>
<polygon fill="#a5bfe2" points="461.7,335.0 462.6,325.6 469.4,322.1 479.7,322.1 490.0,318.7 490.0,335.0"/>
<polygon fill="#6a97d2" points="394.0,268.1 400.0,265.6 406.9,269.0 412.9,276.7 416.3,285.3 424.9,289.6 433.4,291.3 443.7,293.0 450.6,295.6 454.0,300.7 450.6,305.0 443.7,304.1 435.1,299.9 426.6,295.6 418.0,293.0 411.1,287.9 404.3,281.0 397.4,274.1"/>
<polygon fill="#6a97d2" points="376.9,281.0 383.7,277.6 390.6,280.1 382.9,283.1"/>
<polygon fill="#6a97d2" points="465.1,335.0 472.9,329.0 481.4,328.1 490.0,329.0 490.0,335.0"/>
<polygon fill="#33c896" points="437.7,296.9 442.9,296.9 442.9,298.1 437.7,298.1"/>
</g>
<g clip-path="url(#c14)">
<polygon fill="#e0e8f5" points="625.7,63.4 637.1,63.4 639.3,68.7 644.3,70.1 647.1,75.1 646.4,82.3 645.0,86.6 645.7,95.1 644.3,102.3 640.0,106.6 632.9,107.3 627.1,103.7 624.3,96.6 628.6,92.3 637.1,90.9 637.9,83.7 634.3,79.4 630.0,73.7 628.6,68.0"/>
<polygon fill="#e0e8f5" points="602.9,119.4 606.4,112.3 612.9,108.7 619.3,109.4 621.4,113.0 617.9,118.7 611.4,122.3 605.0,124.4"/>
<polygon fill="#e0e8f5" points="657.1,102.3 661.4,97.3 670.0,93.7 680.0,93.7 680.0,117.3 665.7,115.1 658.6,115.9"/>
<polygon fill="#a5bfe2" points="632.1,72.3 635.0,70.1 642.9,71.6 645.0,75.9 644.3,80.9 640.0,82.3 636.4,80.1 633.6,76.6"/>
<polygon fill="#a5bfe2" points="626.4,97.3 630.0,93.7 637.1,93.0 641.4,95.9 640.7,100.9 637.1,103.7 631.4,103.7 627.9,100.9"/>
<polygon fill="#a5bfe2" points="605.7,118.0 608.6,113.0 614.3,110.6 618.6,111.6 617.1,116.6 612.1,120.1 607.9,120.1"/>
<polygon fill="#a5bfe2" points="658.6,103.7 662.9,99.4 669.3,97.3 680.0,97.3 680.0,114.4 665.7,113.0 660.0,113.0"/>
<polygon fill="#6a97d2" points="662.9,101.6 667.1,99.1 680.0,99.4 680.0,103.7 669.3,105.9 665.7,107.3 663.6,104.4"/>
</g>
<g clip-path="url(#c15)">
<polygon fill="#e0e8f5" points="490.7,63.4 497.9,63.4 496.4,68.0 492.9,71.6 491.1,68.0"/>
<polygon fill="#e0e8f5" points="531.4,78.0 533.1,73.0 535.0,78.0 533.6,81.6"/>
<polygon fill="#e0e8f5" points="527.9,84.4 529.6,82.0 531.0,84.9 529.3,86.6"/>
<polygon fill="#e0e8f5" points="557.9,63.4 568.6,63.4 568.9,68.7 566.4,73.0 561.4,75.1 558.6,70.1"/>
<polygon fill="#e0e8f5" points="552.9,111.6 555.7,106.6 560.7,104.4 565.7,107.3 567.9,112.3 565.0,116.6 560.0,118.7 555.0,116.6"/>
<polygon fill="#a5bfe2" points="558.3,112.3 560.7,110.1 562.9,112.3 560.7,114.4"/>
</g>
<g clip-path="url(#c16)">
<polygon fill="#e0e8f5" points="645.0,163.7 650.0,158.0 660.0,153.7 667.1,148.7 680.0,147.3 680.0,162.3 665.7,161.6 660.0,165.9 651.4,168.7 647.1,167.3"/>
<polygon fill="#e0e8f5" points="627.1,163.0 633.6,157.3 637.1,162.3 641.4,170.1 647.1,170.1 651.4,178.7 657.9,184.4 658.3,188.7 655.7,193.0 657.1,208.0 649.3,208.0 648.6,190.1 642.9,182.3 637.1,174.4 632.9,168.7"/>
<polygon fill="#e0e8f5" points="587.9,195.9 592.1,193.7 595.0,196.6 592.1,199.9"/>
<polygon fill="#a5bfe2" points="647.1,163.7 652.9,158.7 661.4,155.9 668.6,150.9 680.0,149.9 680.0,160.9 665.7,160.1 659.3,163.7 652.9,167.0 648.6,165.6"/>
<polygon fill="#a5bfe2" points="630.0,162.3 633.6,159.0 636.9,163.7 633.1,167.6"/>
<polygon fill="#a5bfe2" points="644.3,179.4 647.9,175.9 655.0,185.1 651.4,188.7"/>
<polygon fill="#a5bfe2" points="641.1,174.4 643.1,173.0 644.6,175.1 642.9,176.6"/>
<polygon fill="#6a97d2" points="664.3,157.3 669.3,154.1 680.0,153.0 680.0,159.9 668.6,159.4"/>
</g>
<g clip-path="url(#c17)">
<polygon fill="#e0e8f5" points="647.1,208.0 657.9,208.0 657.1,213.7 650.0,214.4 647.1,218.7 645.0,213.7"/>
</g>
<g clip-path="url(#c18)">
<polygon fill="#e0e8f5" points="560.0,174.4 562.9,168.7 565.7,167.0 567.9,168.0 567.9,175.9 565.7,179.9 562.9,177.6"/>
</g>
<g clip-path="url(#c19)">
<polygon fill="#e0e8f5" points="455.0,320.0 497.1,320.0 501.4,321.4 510.0,325.0 521.4,332.9 530.0,336.4 530.0,395.0 447.1,395.0 441.4,387.1 436.4,377.1 435.7,368.6 439.3,357.1 438.6,347.1 445.7,335.7 451.4,330.0 457.1,327.1"/>
<polygon fill="#a5bfe2" points="462.1,324.3 471.4,321.4 481.4,320.0 494.3,320.0 507.1,326.4 518.6,332.9 522.9,336.4 530.0,337.9 530.0,395.0 448.6,395.0 443.6,387.1 439.3,377.1 439.3,368.6 442.1,360.0 441.4,351.4 447.1,347.1 458.6,347.1 456.4,340.0 460.7,332.9"/>
<polygon fill="#6a97d2" points="464.3,334.3 472.9,328.6 491.4,326.4 507.1,333.6 518.6,337.1 530.0,339.3 530.0,388.6 515.7,387.1 501.4,385.7 487.1,387.1 477.1,384.3 471.4,387.1 474.3,391.4 471.4,395.0 448.6,395.0 444.3,387.1 448.6,381.4 445.7,375.7 442.1,371.4 442.9,367.9 451.4,368.6 456.4,365.7 454.3,360.0 449.3,357.9 451.4,355.7 464.3,354.3 463.6,345.7"/>
<polygon fill="#a5bfe2" points="472.9,387.1 477.1,385.0 487.1,387.9 501.4,386.9 515.7,388.3 530.0,389.7 530.0,395.0 475.7,395.0"/>
<polygon fill="#e0e8f5" points="498.6,391.4 507.1,390.0 518.6,390.7 530.0,391.4 530.0,395.0 500.0,395.0"/>
<polygon fill="#ffffff" points="481.4,391.4 485.0,390.0 485.7,395.0 481.4,395.0"/>
<polygon fill="#33c896" points="466.4,338.6 471.4,335.7 478.6,337.1 492.9,337.1 501.4,340.0 510.0,342.9 521.4,342.9 530.0,340.7 530.0,358.6 521.4,359.3 510.0,360.7 498.6,359.3 490.0,361.4 482.9,361.4 477.1,357.9 471.4,354.3 467.1,347.1 465.7,342.9"/>
<polygon fill="#33c896" points="462.1,364.3 471.4,363.6 477.1,358.6 481.4,362.1 487.1,365.0 494.3,368.6 507.1,368.6 514.3,371.4 517.9,375.7 514.3,380.0 507.1,382.9 497.1,382.1 487.1,383.6 480.0,380.7 471.4,377.1 465.7,371.4"/>
<polygon fill="#33c896" points="447.9,385.7 452.9,382.1 460.0,380.7 465.7,387.1 471.4,390.0 472.1,393.6 468.6,395.0 454.3,395.0 450.0,390.0"/>
<polygon fill="#64f564" points="471.4,345.7 474.3,342.1 481.4,342.1 488.6,342.9 497.1,342.1 504.3,345.0 509.3,349.3 510.7,352.9 507.1,356.4 497.1,356.4 488.6,358.6 480.0,356.4 474.3,352.1"/>
<polygon fill="#64f564" points="475.7,375.0 479.3,370.0 483.6,367.9 488.6,370.7 492.9,373.6 501.4,373.6 502.1,375.7 492.9,377.1 487.1,379.3 481.4,378.6"/>
</g>
<g clip-path="url(#c20)">
<polygon fill="#e0e8f5" points="530.0,336.4 538.6,337.9 548.6,336.4 555.7,338.6 565.7,338.6 572.9,342.9 578.6,346.4 583.6,345.7 585.7,348.6 585.0,354.3 590.0,360.0 597.1,364.3 604.3,368.6 611.4,372.9 618.6,380.0 624.3,387.1 630.0,390.0 630.0,395.0 530.0,395.0"/>
<polygon fill="#a5bfe2" points="530.0,337.9 538.6,339.3 545.7,340.7 555.7,339.3 565.7,340.0 572.9,345.0 577.1,348.6 579.3,354.3 585.7,358.6 594.3,363.6 602.9,368.6 610.0,373.6 615.7,380.0 621.4,386.4 628.6,391.4 630.0,395.0 530.0,395.0"/>
<polygon fill="#6a97d2" points="530.0,339.3 537.1,341.4 544.3,343.6 548.6,347.1 555.7,344.3 565.7,344.3 570.7,346.4 568.6,352.9 572.9,357.1 581.4,359.3 590.0,362.9 600.0,368.6 607.1,374.3 610.0,378.6 615.7,385.7 622.9,391.4 625.7,395.0 530.0,395.0"/>
<polygon fill="#a5bfe2" points="537.1,375.7 541.4,373.6 551.4,374.3 558.6,380.0 556.4,382.9 542.9,382.1"/>
<polygon fill="#a5bfe2" points="530.0,388.6 538.6,390.7 545.7,395.0 530.0,395.0"/>
<polygon fill="#e0e8f5" points="530.0,391.4 535.7,392.9 538.6,395.0 530.0,395.0"/>
<polygon fill="#a5bfe2" points="570.0,395.0 572.9,393.6 577.1,395.0"/>
<polygon fill="#33c896" points="530.0,341.4 538.6,344.3 547.1,348.6 558.6,353.6 567.1,357.9 577.1,362.1 587.1,365.7 595.7,370.0 601.4,375.0 602.9,380.0 607.1,387.1 609.3,392.9 611.4,395.0 587.1,395.0 580.0,390.0 572.9,384.3 564.3,379.3 554.3,373.6 547.1,368.6 541.4,365.0 535.7,360.7 530.0,358.6"/>
<polygon fill="#64f564" points="535.0,348.6 538.6,347.9 544.3,350.7 552.9,355.7 560.0,358.6 567.1,362.9 574.3,367.9 580.0,370.0 584.3,375.0 590.0,378.6 592.9,382.1 595.0,386.4 591.4,387.1 585.7,383.6 580.0,378.6 572.9,376.4 567.1,372.1 560.0,367.9 552.9,362.9 545.7,357.9 538.6,354.3 535.7,351.4"/>
</g>
<g clip-path="url(#c21)">
<polygon fill="#ffffff" points="580.0,370.0 680.0,370.0 680.0,445.0 580.0,445.0"/>
<polygon fill="#e0e8f5" points="608.6,370.0 615.7,377.1 622.9,385.7 630.0,392.1 638.6,392.9 648.6,394.3 657.1,398.6 665.7,402.9 673.1,410.0 680.0,412.9 680.0,445.0 580.0,445.0 580.0,370.0"/>
<polygon fill="#a5bfe2" points="606.4,370.0 612.9,378.6 621.4,388.6 630.0,394.3 638.6,395.0 648.6,396.4 657.1,400.7 665.7,405.7 673.1,412.9 680.0,415.7 680.0,445.0 580.0,445.0 580.0,370.0"/>
<polygon fill="#6a97d2" points="580.0,370.0 602.9,370.0 608.6,377.1 613.6,385.7 621.4,392.9 630.0,398.6 640.0,397.1 651.4,400.7 658.6,405.7 661.4,412.9 668.6,421.4 673.1,428.6 680.0,431.4 680.0,445.0 633.6,445.0 628.6,441.4 620.0,437.1 612.9,435.7 605.7,440.0 592.9,440.0 585.7,435.0 580.0,434.3"/>
<polygon fill="#e0e8f5" points="600.0,445.0 608.6,440.7 615.7,441.7 622.9,445.0"/>
<polygon fill="#a5bfe2" points="580.0,395.7 583.6,398.6 585.0,402.9 582.1,407.1 580.0,407.9"/>
<polygon fill="#a5bfe2" points="635.7,419.3 641.4,415.7 650.0,412.9 652.1,415.7 648.6,424.3 641.4,425.0"/>
<polygon fill="#33c896" points="580.0,370.0 595.7,370.0 602.9,374.3 601.4,380.0 607.1,387.1 607.9,392.9 621.4,398.6 630.0,405.0 638.6,405.0 642.9,407.9 634.3,410.7 625.7,414.3 632.9,422.9 640.0,428.6 650.0,431.4 661.4,435.0 660.0,437.1 651.4,438.6 641.4,438.6 630.0,435.0 621.4,431.4 612.9,429.3 604.3,425.7 595.7,421.4 590.7,418.6 592.9,411.4 595.7,404.3 594.3,400.0 587.1,391.4 580.0,384.3"/>
<polygon fill="#33c896" points="593.6,430.7 597.9,427.1 602.1,430.7 597.9,435.0"/>
<polygon fill="#33c896" points="668.6,440.7 680.0,442.1 680.0,444.3 669.3,442.4"/>
<polygon fill="#64f564" points="580.0,370.0 584.3,372.9 592.9,378.6 595.0,386.4 588.6,383.6 580.0,378.6"/>
<polygon fill="#64f564" points="612.9,419.3 618.6,418.6 624.3,422.1 627.9,425.7 621.4,426.9 617.1,423.6"/>
</g>
<g clip-path="url(#c22)">
<polygon fill="#e0e8f5" points="447.1,395.0 477.1,395.0 478.6,397.1 471.4,402.1 462.9,400.7 455.7,397.9"/>
<polygon fill="#a5bfe2" points="450.0,395.0 475.7,395.0 470.7,400.7 463.6,399.3"/>
<polygon fill="#6a97d2" points="452.9,395.0 472.9,395.0 468.6,398.6 461.4,397.1"/>
<polygon fill="#e0e8f5" points="485.7,395.0 530.0,395.0 530.0,462.9 490.0,462.9 481.4,457.9 472.9,455.0 465.7,447.9 457.1,437.9 451.4,429.3 450.0,425.0 458.6,427.1 471.4,431.4 481.4,433.6 488.6,437.9 495.7,432.9 504.3,430.0 512.9,429.3 515.7,425.0 514.3,415.0 507.1,406.4 500.0,400.7 492.9,399.3 487.1,397.1"/>
<polygon fill="#ffffff" points="505.7,395.0 530.0,395.0 530.0,400.0 521.4,401.4 514.3,402.9 508.6,399.3"/>
<polygon fill="#a5bfe2" points="488.6,395.0 500.0,395.0 498.6,398.6 492.9,398.6"/>
<polygon fill="#a5bfe2" points="517.1,413.6 522.9,408.6 530.0,406.4 530.0,426.4 519.3,426.4"/>
<polygon fill="#a5bfe2" points="460.0,432.1 471.4,434.3 481.4,436.4 488.6,440.0 494.3,439.3 502.9,436.4 510.0,431.4 515.7,435.7 524.3,441.4 521.4,445.7 520.0,450.7 525.0,456.4 530.0,460.0 530.0,462.9 492.9,462.9 484.3,456.4 475.7,452.1 468.6,443.6 461.4,436.4"/>
<polygon fill="#6a97d2" points="477.1,446.4 482.9,442.1 488.6,445.0 494.3,448.6 507.1,447.9 502.9,452.9 508.6,457.9 512.1,462.9 501.4,462.9 497.1,457.9 490.0,454.3 482.9,450.7"/>
</g>
<g clip-path="url(#c23)">
<polygon fill="#a5bfe2" points="530.0,395.0 630.0,395.0 630.0,462.9 530.0,462.9"/>
<polygon fill="#e0e8f5" points="530.0,395.0 538.6,395.0 542.1,399.3 540.7,406.4 535.7,408.6 530.0,406.4"/>
<polygon fill="#ffffff" points="530.0,397.1 535.7,396.4 537.9,400.0 534.3,402.9 530.0,403.6"/>
<polygon fill="#e0e8f5" points="530.0,425.7 535.7,422.9 541.4,425.0 545.7,432.1 550.0,443.6 552.9,445.7 558.6,441.4 567.1,442.1 575.7,444.3 577.1,447.9 570.0,450.7 558.6,451.4 556.4,453.6 561.4,459.3 567.1,462.9 530.0,462.9"/>
<polygon fill="#ffffff" points="530.0,427.9 536.4,425.0 541.4,428.6 545.0,437.9 548.6,445.7 545.7,450.7 540.0,452.1 534.3,451.4 530.0,449.3"/>
<polygon fill="#ffffff" points="532.1,457.9 547.1,455.7 555.7,457.9 565.7,462.9 531.4,462.9"/>
<polygon fill="#e0e8f5" points="590.0,453.6 597.1,449.3 607.1,449.3 615.7,444.3 622.9,446.4 630.0,449.3 630.0,459.3 615.7,459.3 607.1,462.9 598.6,458.6"/>
<polygon fill="#ffffff" points="612.9,453.6 618.6,449.3 624.3,452.1 621.4,456.4 615.7,458.6"/>
<polygon fill="#6a97d2" points="544.3,413.6 547.9,410.7 552.9,411.4 558.6,417.9 564.3,421.4 572.9,416.4 579.3,413.6 580.0,407.9 585.0,403.6 582.9,395.0 630.0,395.0 630.0,442.1 621.4,440.7 614.3,436.4 607.1,437.1 604.3,440.0 592.9,439.3 585.7,435.0 575.7,430.7 567.1,429.3 560.0,428.6 552.9,422.1 547.1,417.9"/>
<polygon fill="#6a97d2" points="560.7,395.0 567.1,395.0 564.3,396.1"/>
<polygon fill="#33c896" points="588.6,395.0 630.0,395.0 630.0,413.6 625.7,416.4 628.6,421.4 630.0,423.6 630.0,432.1 621.4,431.4 611.4,430.0 601.4,425.0 594.3,422.1 591.4,419.3 592.9,413.6 595.0,406.4 592.9,400.7"/>
<polygon fill="#6a97d2" points="614.3,395.0 630.0,395.0 630.0,403.6 622.9,400.0"/>
<polygon fill="#6a97d2" points="630.0,412.1 625.7,416.4 628.6,421.4 630.0,423.6"/>
<polygon fill="#33c896" points="594.3,430.7 597.9,427.1 601.4,430.7 597.9,434.7"/>
<polygon fill="#64f564" points="612.9,419.3 615.7,417.9 621.4,420.0 627.9,425.0 624.3,427.1 618.6,425.7"/>
</g>
<g clip-path="url(#c24)">
<polygon fill="#6a97d2" points="600.0,410.0 680.0,410.0 680.0,470.0 600.0,470.0"/>
<polygon fill="#a5bfe2" points="622.9,438.6 632.0,443.7 638.9,446.0 645.7,447.7 650.3,451.7 654.9,455.7 661.7,458.0 668.6,459.1 680.0,458.0 680.0,470.0 600.0,470.0 600.0,438.6"/>
<polygon fill="#e0e8f5" points="600.0,444.3 611.4,443.1 622.9,444.3 634.3,447.7 640.0,449.4 648.0,450.6 650.3,455.7 649.1,460.3 645.7,463.7 600.0,463.7"/>
<polygon fill="#ffffff" points="637.7,454.6 640.0,452.3 645.7,452.9 647.4,455.7 645.7,459.1 642.3,459.7"/>
<polygon fill="#ffffff" points="613.1,454.0 616.0,450.0 620.6,448.9 624.6,453.2 620.6,455.7 616.0,458.6"/>
</g>
<g clip-path="url(#c25)">
<polygon fill="#e0e8f5" points="209.0,369.5 212.0,367.5 215.0,367.0 217.5,369.7 215.0,372.0 210.0,371.0"/>
<polygon fill="#e0e8f5" points="414.0,400.0 417.0,397.5 421.0,399.5 421.0,403.0 418.0,406.0 415.0,404.0"/>
<polygon fill="#e0e8f5" points="327.9,213.0 331.0,208.5 333.0,207.8 337.0,208.5 340.0,211.0 340.8,217.0 340.5,223.0 338.0,226.5 335.5,227.2 332.5,224.0 329.5,219.0"/>
<polygon fill="#a5bfe2" points="329.3,213.5 332.0,210.0 333.0,209.3 337.0,210.0 339.0,212.0 339.7,217.0 339.0,222.0 337.0,225.0 335.5,225.5 333.0,222.5 331.0,219.0"/>
<polygon fill="#6a97d2" points="330.7,213.6 332.9,210.0 335.7,212.9 336.4,222.9 334.5,222.0 332.9,218.6"/>
<polygon fill="#33c896" points="331.4,213.1 333.6,211.7 335.0,216.4 333.6,217.9"/>
<polygon fill="#ffffff" points="224.0,290.0 242.0,290.0 242.0,305.0 224.0,305.0"/>
<polygon fill="#e0e8f5" points="226.4,296.4 230.7,292.1 237.1,293.6 240.0,297.1 237.1,300.7 233.6,302.9 229.3,300.0"/>
<polygon fill="#a5bfe2" points="228.1,296.9 231.4,294.3 235.7,295.0 237.9,297.4 233.6,300.0 230.0,299.3"/>
<polygon fill="#ffffff" points="256.0,279.0 270.0,279.0 270.0,290.0 256.0,290.0"/>
<polygon fill="#e0e8f5" points="258.1,285.7 260.7,281.4 265.7,280.7 267.9,284.3 265.7,287.9 260.7,288.6"/>
<polygon fill="#a5bfe2" points="259.0,285.4 261.4,282.6 265.0,282.1 266.4,284.6 264.3,287.1 260.7,287.4"/>
</g>
<g clip-path="url(#c26)">
<polygon fill="#6a97d2" points="115.0,110.0 175.0,110.0 175.0,155.0 115.0,155.0"/>
<polygon fill="#a5bfe2" points="123.1,112.6 124.4,110.0 138.1,110.0 140.7,115.1 142.4,118.6 143.7,123.7 145.0,127.1 148.4,135.7 149.3,140.0 148.0,146.0 143.3,152.0 142.4,155.0 133.4,155.0 127.9,143.4 127.0,139.1 130.9,132.3 133.4,125.0 133.4,120.3 129.1,113.4 125.3,117.7 123.6,121.1 123.1,116.9"/>
<polygon fill="#e0e8f5" points="137.7,123.7 140.7,127.1 148.9,140.0 146.7,146.9 139.9,152.0 136.9,150.3 127.9,140.0 132.1,132.3 135.6,126.7"/>
<polygon fill="#ffffff" points="137.7,125.4 147.4,140.0 145.0,142.6 139.4,150.1 128.9,140.0"/>
<polygon fill="#e0e8f5" points="136.9,117.3 140.3,116.9 140.3,122.9 137.1,122.9"/>
<polygon fill="#ffffff" points="137.7,118.1 139.4,117.7 139.4,122.0 138.0,122.0"/>
<polygon fill="#e0e8f5" points="133.4,155.0 136.4,151.1 139.9,152.4 143.3,151.1 144.6,155.0"/>
<polygon fill="#a5bfe2" points="115.0,149.0 120.1,148.6 124.4,150.3 129.6,152.0 132.1,155.0 115.0,155.0"/>
<polygon fill="#e0e8f5" points="115.0,151.1 119.3,150.7 123.6,152.4 127.0,155.0 115.0,155.0"/>
<polygon fill="#a5bfe2" points="159.6,110.0 163.0,116.9 166.4,126.3 169.9,129.7 175.0,130.6 175.0,110.0"/>
<polygon fill="#ffffff" points="161.3,110.0 164.7,115.1 166.4,122.0 169.9,124.6 172.4,120.3 175.0,118.6 175.0,110.0"/>
<polygon fill="#33c896" points="115.0,110.0 120.1,110.0 121.0,116.9 120.1,122.0 123.6,127.1 124.4,130.6 120.1,134.9 115.0,135.7"/>
<polygon fill="#33c896" points="115.0,142.6 118.9,139.1 121.9,138.3 121.9,146.0 118.4,147.7 115.0,148.1"/>
<polygon fill="#33c896" points="127.9,118.1 130.4,117.9 130.4,124.7 128.0,125.0"/>
<polygon fill="#33c896" points="149.3,110.0 157.9,110.0 161.3,115.1 163.0,121.1 165.6,127.1 168.1,132.3 175.0,135.7 175.0,155.0 163.0,155.0 161.3,152.0 149.3,155.0 149.3,138.3 145.0,127.1 145.0,118.6 146.7,113.4"/>
<polygon fill="#6a97d2" points="161.3,155.0 165.6,151.1 168.1,155.0"/>
<polygon fill="#64f564" points="115.0,110.0 118.0,110.0 118.4,115.1 117.6,120.3 120.1,125.4 120.6,129.7 118.4,133.1 115.0,134.4"/>
<polygon fill="#64f564" points="148.0,115.1 150.1,111.7 153.6,110.9 157.0,113.4 159.1,118.6 159.6,123.7 157.9,128.0 156.1,130.1 157.9,132.3 159.1,138.3 159.1,146.0 157.9,150.3 155.3,146.9 154.4,138.3 154.9,132.3 152.7,127.1 149.3,121.1"/>
<polygon fill="#64f564" points="162.1,140.9 164.7,138.3 169.0,137.4 171.6,140.0 174.1,144.3 169.9,150.3 165.6,147.7 163.0,144.3"/>
<polygon fill="#64f564" points="149.3,155.0 152.7,150.3 155.3,152.0 157.9,155.0"/>
</g>
<g clip-path="url(#c27)">
<polygon fill="#a5bfe2" points="210.0,185.0 270.0,185.0 270.0,230.0 210.0,230.0"/>
<polygon fill="#e0e8f5" points="210.0,192.3 213.4,196.1 216.9,201.3 221.1,205.6 223.7,209.9 222.4,214.1 223.3,218.4 228.0,221.4 233.1,224.0 236.1,227.0 237.4,230.0 210.0,230.0"/>
<polygon fill="#ffffff" points="210.0,193.6 212.6,197.0 216.0,202.1 220.3,206.4 222.9,209.9 221.1,214.1 222.0,219.3 227.1,222.7 232.3,225.3 234.9,227.9 235.7,230.0 210.0,230.0"/>
<polygon fill="#e0e8f5" points="230.6,187.1 233.6,185.9 238.3,187.6 240.0,191.0 238.3,193.6 234.9,193.1 231.4,190.6"/>
<polygon fill="#ffffff" points="231.9,188.0 234.9,186.7 238.3,188.9 238.7,191.9 236.6,192.7 233.1,191.0"/>
<polygon fill="#e0e8f5" points="238.3,185.0 249.4,185.0 247.7,188.9 244.3,188.4 241.7,186.7"/>
<polygon fill="#e0e8f5" points="263.1,185.0 270.0,185.0 270.0,190.1 266.6,188.4"/>
<polygon fill="#6a97d2" points="210.0,185.0 218.1,185.0 222.0,189.3 227.1,194.4 230.6,199.6 234.9,204.7 235.7,209.9 234.0,214.1 229.7,219.3 226.7,215.9 224.1,210.7 223.7,207.3 221.1,204.7 216.9,199.6 213.4,194.4 210.0,192.7"/>
<polygon fill="#6a97d2" points="239.1,202.1 242.6,197.4 244.3,195.7 252.9,194.0 256.7,192.3 260.6,194.4 270.0,195.3 270.0,225.3 265.7,226.6 261.4,222.7 256.3,219.3 259.7,213.3 257.6,207.3 255.9,205.1 251.1,205.1 244.3,204.3 242.1,203.4"/>
<polygon fill="#6a97d2" points="237.4,230.0 238.3,227.0 244.3,225.3 251.1,222.7 254.6,224.4 258.0,227.9 258.9,230.0"/>
<polygon fill="#e0e8f5" points="237.9,207.3 242.6,206.9 243.0,208.6 238.3,209.0"/>
<polygon fill="#e0e8f5" points="245.6,213.3 252.4,209.9 252.9,217.1 249.4,218.0"/>
<polygon fill="#ffffff" points="246.9,213.3 252.0,210.7 252.0,216.3 249.9,216.7"/>
<polygon fill="#e0e8f5" points="237.0,218.4 242.6,218.0 243.0,219.7 237.4,220.1"/>
<polygon fill="#33c896" points="219.9,197.4 225.9,197.0 228.4,201.3 231.4,205.1 231.9,208.6 230.6,211.6 229.3,213.7 227.1,209.0 224.6,204.7 221.6,200.4"/>
<polygon fill="#33c896" points="214.1,190.6 215.6,188.9 215.8,191.7"/>
<polygon fill="#33c896" points="245.1,201.7 247.3,199.1 251.1,200.0 253.7,202.1 251.1,203.9 247.7,204.7"/>
<polygon fill="#33c896" points="261.0,203.4 264.9,197.9 268.3,200.0 270.0,200.4 270.0,210.7 265.7,211.6 262.3,208.6"/>
<polygon fill="#33c896" points="259.7,218.9 261.9,217.7 261.3,219.7"/>
<polygon fill="#33c896" points="241.7,230.0 242.1,228.3 245.1,229.6 246.0,230.0"/>
<polygon fill="#64f564" points="264.9,207.3 266.1,207.1 266.1,209.0 264.9,209.0"/>
</g>
<g clip-path="url(#c28)">
<polygon fill="#ffffff" points="295.0,222.0 355.0,222.0 355.0,267.0 295.0,267.0"/>
<polygon fill="#e0e8f5" points="295.0,222.0 336.1,222.0 335.3,230.6 336.1,239.1 339.6,240.9 341.7,244.3 341.7,256.3 339.6,260.6 333.6,262.3 332.7,267.0 295.0,267.0"/>
<polygon fill="#a5bfe2" points="295.0,222.0 318.1,222.0 320.7,227.1 322.4,231.4 325.0,235.7 328.4,240.0 331.9,241.3 336.1,240.4 339.6,242.6 340.4,246.0 340.4,255.4 337.9,259.7 333.6,261.4 331.9,267.0 312.1,267.0 313.4,258.9 310.4,256.3 306.1,256.3 303.6,253.7 301.0,247.7 297.6,248.6 295.0,249.4"/>
<polygon fill="#a5bfe2" points="328.4,222.0 335.3,222.0 334.9,226.3 331.9,227.1 329.7,224.6"/>
<polygon fill="#ffffff" points="320.7,222.0 327.1,222.0 329.3,225.4 332.7,231.4 334.9,236.6 332.7,239.1 329.3,238.3 325.9,234.0 323.3,228.9"/>
<polygon fill="#ffffff" points="300.1,255.4 303.6,254.6 306.1,258.0 310.4,257.1 313.0,259.7 311.3,264.9 310.4,267.0 300.1,267.0 299.3,260.6"/>
<polygon fill="#e0e8f5" points="317.7,241.3 322.0,240.9 321.6,243.4 319.9,246.9 318.6,244.3"/>
<polygon fill="#ffffff" points="318.3,241.5 321.6,241.3 319.9,246.0"/>
<polygon fill="#6a97d2" points="297.1,222.0 315.6,222.0 317.7,226.3 320.7,232.3 322.0,235.7 319.9,239.1 315.6,240.4 313.9,244.3 313.0,248.6 310.4,251.6 306.1,248.6 303.1,244.3 303.6,239.1 301.9,234.9 299.3,228.9"/>
<polygon fill="#6a97d2" points="295.0,240.0 297.1,241.7 297.6,245.1 295.0,247.7"/>
<polygon fill="#6a97d2" points="320.7,256.3 322.9,250.3 325.0,247.3 329.3,247.3 332.7,250.3 333.6,254.6 332.3,258.9 331.0,262.3 329.3,264.9 323.3,267.0 319.9,262.3"/>
<polygon fill="#33c896" points="299.3,222.0 307.9,222.0 312.1,226.3 316.4,228.4 318.1,233.1 317.3,237.0 311.3,238.7 306.1,237.9 304.0,234.0 305.3,229.7 301.9,226.3"/>
<polygon fill="#33c896" points="307.9,246.0 310.4,243.9 312.1,246.4 310.3,248.1"/>
<polygon fill="#33c896" points="322.0,257.1 324.6,254.1 327.1,256.3 325.4,259.7 323.3,260.1"/>
</g>
<g clip-path="url(#c29)">
<polygon fill="#ffffff" points="185.0,58.0 265.0,58.0 265.0,118.0 185.0,118.0"/>
<polygon fill="#e0e8f5" points="185.0,62.6 212.4,62.6 213.0,66.0 210.1,70.6 211.9,73.4 218.1,71.1 224.4,71.1 226.7,75.1 224.4,80.9 222.7,85.4 224.4,90.0 221.6,94.6 219.3,96.9 215.9,92.3 212.4,88.9 209.6,84.3 205.6,86.6 199.9,86.6 195.3,85.4 191.9,87.7 189.6,85.4 185.0,84.9"/>
<polygon fill="#e0e8f5" points="185.0,79.7 189.6,80.9 191.9,86.6 190.7,93.4 187.3,96.9 185.0,96.9"/>
<polygon fill="#e0e8f5" points="194.7,95.7 201.6,90.6 207.3,98.0 206.1,102.6 202.1,106.0 197.6,102.6"/>
<polygon fill="#e0e8f5" points="189.6,100.3 195.3,103.1 197.0,109.4 194.1,118.0 185.0,118.0 185.0,95.7"/>
<polygon fill="#e0e8f5" points="231.3,84.3 232.4,71.7 233.6,68.3 235.3,74.0 238.7,76.3 243.3,73.4 247.3,70.6 252.4,71.1 253.6,74.0 250.1,79.1 247.3,84.9 242.1,87.1 236.4,88.9 233.6,92.3 230.1,87.7"/>
<polygon fill="#e0e8f5" points="222.1,107.1 224.4,105.4 229.6,105.1 231.3,107.1 229.0,109.4 224.4,109.4"/>
<polygon fill="#a5bfe2" points="186.7,63.1 206.1,63.1 207.9,70.6 207.3,77.4 208.4,80.9 204.4,84.9 199.9,85.4 194.1,83.7 190.1,80.3 189.6,75.1 191.3,70.6 189.0,66.6"/>
<polygon fill="#a5bfe2" points="209.0,72.9 211.9,72.9 210.7,75.7"/>
<polygon fill="#a5bfe2" points="211.3,79.1 215.9,75.1 221.0,75.1 224.4,79.7 221.0,82.6 215.9,86.6"/>
<polygon fill="#a5bfe2" points="217.0,90.0 219.9,86.6 222.5,90.0 219.9,92.9"/>
<polygon fill="#a5bfe2" points="197.0,97.4 201.6,92.3 205.6,98.0 205.3,101.4 202.1,104.9 198.7,102.0"/>
<polygon fill="#a5bfe2" points="185.0,82.6 187.9,83.7 189.6,87.7 188.4,92.3 185.0,94.0"/>
<polygon fill="#a5bfe2" points="231.3,86.0 233.0,80.9 239.9,79.1 247.9,78.6 245.0,85.4 239.9,86.6 234.1,88.9"/>
<polygon fill="#a5bfe2" points="185.0,96.3 189.0,95.1 193.0,99.1 195.3,106.0 194.7,111.7 191.3,118.0 185.0,118.0"/>
<polygon fill="#6a97d2" points="187.9,63.1 195.9,63.1 192.4,66.6 190.1,66.0"/>
<polygon fill="#6a97d2" points="194.1,77.4 196.4,72.9 199.3,73.4 201.0,78.0 197.6,82.6"/>
<polygon fill="#6a97d2" points="185.0,84.9 186.7,86.6 186.7,90.6 185.0,92.3"/>
<polygon fill="#6a97d2" points="185.0,98.0 188.4,96.9 191.9,100.3 193.6,106.0 193.0,110.6 189.6,115.1 185.0,118.0"/>
<polygon fill="#33c896" points="185.0,100.9 189.0,99.7 189.0,111.7 186.7,111.1 185.0,108.3"/>
</g>
<polyline fill="none" stroke="#000" stroke-width="2" stroke-linejoin="round" stroke-linecap="round" points="490.3,62.1 489.3,67.1 486.4,69.3 485.7,75.0 482.1,78.6 477.9,81.4 476.4,87.9 474.3,90.7 472.9,96.4 474.0,100.7 474.6,106.4 471.4,109.3 462.9,112.1 458.6,116.4 455.7,120.7 457.9,124.3 456.4,127.1"/>
<polyline fill="none" stroke="#000" stroke-width="2" stroke-linejoin="round" stroke-linecap="round" points="456.4,127.1 440.0,127.4 438.6,126.4 436.4,127.1 435.0,125.7 433.6,123.6 435.0,121.7 437.1,122.1 436.9,125.0 434.3,126.4 430.0,128.6 427.1,130.0 424.3,128.6 422.9,127.1 420.0,127.1 418.6,129.3 415.7,130.0 414.3,128.6 412.9,127.1 410.0,129.3 407.4,130.3 407.9,134.3 410.0,136.4 402.9,137.4 400.0,140.0 395.0,142.9 393.6,145.7 395.0,149.3 397.1,150.7 392.9,150.0 391.4,147.1 387.1,146.0 383.6,146.0 380.0,149.3 375.7,150.0 370.0,155.0"/>
<polygon fill="#000" stroke="#000" stroke-width="0.8" stroke-linejoin="round" points="413.6,132.1 415.7,130.7 418.6,131.7 417.1,134.0 414.3,134.3"/>
<polygon fill="#000" stroke="#000" stroke-width="0.8" stroke-linejoin="round" points="375.7,149.3 377.9,148.3 379.3,150.3 377.1,151.7"/>
<polygon fill="none" stroke="#000" stroke-width="1" stroke-linejoin="round" points="393.6,143.6 397.1,144.3 397.4,151.1 392.9,150.3"/>
<polygon fill="#000" stroke="#000" stroke-width="0.8" stroke-linejoin="round" points="407.9,90.7 410.0,90.0 413.6,94.3 412.6,96.4 410.0,95.7"/>
<polyline fill="none" stroke="#000" stroke-width="2" stroke-linejoin="round" stroke-linecap="round" points="370.0,155.0 366.4,157.1 364.3,161.4 357.1,166.4 351.4,170.0 346.4,174.3"/>
<polygon fill="#000" stroke="#000" stroke-width="0.8" stroke-linejoin="round" points="336.9,118.3 339.3,117.1 342.9,119.3 347.9,121.1 347.1,123.1 343.6,122.9 342.9,124.6 340.0,123.6 337.9,121.4"/>
<polygon fill="#000" stroke="#000" stroke-width="0.8" stroke-linejoin="round" points="323.1,134.3 325.0,132.6 328.6,134.0 332.9,133.6 337.9,134.3 337.4,138.3 335.7,137.9 335.4,141.4 333.6,141.1 333.1,137.4 330.0,137.1 328.6,139.3 326.9,137.4 326.4,140.7 324.0,140.7"/>
<polyline fill="none" stroke="#000" stroke-width="2" stroke-linejoin="round" stroke-linecap="round" points="365.7,160.7 357.1,166.4 350.0,171.4 347.1,175.7 344.3,180.0 340.0,179.3 339.3,182.1 334.3,182.9 335.7,186.4 339.3,187.9 337.1,191.4 333.6,193.6 335.7,197.1 332.1,198.6 334.3,202.9 337.1,201.4 335.4,207.1 334.0,211.4 335.7,214.3 336.0,221.4 337.9,223.6 336.4,227.1 338.6,230.0 336.4,234.3"/>
<polyline fill="none" stroke="#000" stroke-width="2" stroke-linejoin="round" stroke-linecap="round" points="336.4,227.9 338.6,230.7 337.1,236.4 335.0,243.6 332.1,249.3 333.6,252.1 328.6,255.7 321.4,262.1 317.1,267.9 312.9,275.0 309.3,282.1 306.4,289.3 304.3,295.0 302.9,300.0"/>
<polyline fill="none" stroke="#000" stroke-width="2" stroke-linejoin="round" stroke-linecap="round" points="310.7,280.7 307.9,287.1 305.0,295.7 300.7,304.3 295.0,311.4 289.3,317.9 282.1,323.6 275.7,328.6 272.1,334.3 268.6,338.6 266.4,344.3 264.3,351.4 262.9,355.0"/>
<polygon fill="#fff" stroke="#000" stroke-width="2" stroke-linejoin="round" points="287.1,285.7 288.6,290.7 290.7,293.6 295.0,293.6 299.3,289.3 300.7,292.9 298.1,297.1 297.1,302.9 292.4,306.4 293.6,308.6 290.0,310.7 289.3,315.7 285.0,320.7 279.3,325.7 274.3,329.3 272.9,333.6 270.0,332.1 270.4,325.7 273.6,322.1 274.3,315.7 280.0,312.1 283.6,307.9 285.3,301.4 287.9,295.7 286.4,290.7"/>
<polygon fill="#fff" stroke="#000" stroke-width="2" stroke-linejoin="round" points="261.6,333.4 263.2,341.4 263.9,348.3 261.6,354.0 257.7,359.7 253.6,365.4 249.0,369.3 246.3,366.6 244.4,360.9 245.6,354.0 250.1,348.3 254.7,343.7 258.6,339.1"/>
<polygon fill="none" stroke="#000" stroke-width="1" stroke-linejoin="round" points="259.5,343.0 256.0,349.0 250.5,354.5 248.0,360.0 248.5,364.5 252.0,362.0 256.5,356.5 260.0,350.0"/>
<polyline fill="none" stroke="#000" stroke-width="2" stroke-linejoin="round" stroke-linecap="round" points="267.9,340.7 265.7,348.6 261.4,355.7 255.7,362.9 251.4,367.1 247.1,370.7 246.4,375.7 242.9,380.0 240.0,384.3 235.7,387.9 232.9,386.0 232.1,389.3 227.1,392.1 220.7,395.4 216.4,394.0 211.4,392.1 205.7,391.7 200.0,394.3 195.7,394.6 190.0,391.4"/>
<polyline fill="none" stroke="#000" stroke-width="2" stroke-linejoin="round" stroke-linecap="round" points="230.0,391.4 224.3,394.3 220.0,395.7 215.7,393.6 210.0,391.7 204.3,392.1 198.6,394.6 194.3,392.9 190.0,390.7 185.7,388.6 181.4,385.0 177.1,384.0 172.9,384.6 168.6,384.6 165.0,380.7 161.4,376.4 158.6,372.9"/>
<polyline fill="none" stroke="#000" stroke-width="1.4" stroke-linejoin="round" shape-rendering="auto" points="158.6,372.9 157.6,367.1 158.3,361.4 159.7,356.4 162.6,354.3 164.3,351.4 163.7,347.9 162.6,344.3 162.0,340.0"/>
<polyline fill="none" stroke="#000" stroke-width="1.4" stroke-linejoin="round" shape-rendering="auto" points="160.6,340.0 160.6,345.7 161.1,352.9 157.9,353.6 156.1,357.1 154.7,364.3 155.4,371.4 156.9,376.4"/>
<polyline fill="none" stroke="#000" stroke-width="2" stroke-linejoin="round" stroke-linecap="round" points="156.9,376.4 155.7,380.7 156.0,385.7 158.6,388.6 164.3,391.4 170.0,394.3 174.3,397.1 177.9,400.7 180.0,404.3"/>
<polyline fill="none" stroke="#000" stroke-width="2" stroke-linejoin="round" stroke-linecap="round" points="170.0,395.0 175.7,397.9 179.3,402.9 180.7,406.4 177.9,410.7 175.7,416.4 177.1,421.4 180.7,425.3 185.0,426.4 188.6,426.7 188.9,440.0 184.3,447.9 180.0,454.3 174.3,460.0 173.6,463.6"/>
<polygon fill="#000" stroke="#000" stroke-width="0.8" stroke-linejoin="round" points="185.7,347.9 189.3,345.7 191.4,346.9 195.0,343.6 200.0,342.1 204.3,340.0 211.4,338.9 211.7,340.7 207.9,344.0 204.3,347.1 200.7,350.0 198.3,351.4 196.4,349.3 192.9,350.3 188.6,350.0 186.0,349.3"/>
<polygon fill="#fff" stroke="#000" stroke-width="2" stroke-linejoin="round" points="73.6,300.7 77.1,297.9 81.4,296.4 88.6,297.4 88.6,304.3 83.6,304.3 81.4,305.4 77.9,306.0 76.4,303.6 74.3,302.1"/>
<polygon fill="#000" stroke="#000" stroke-width="0.8" stroke-linejoin="round" points="364.0,68.6 367.4,67.9 372.6,72.9 372.9,76.4 370.0,76.1 367.4,75.0 365.0,71.4"/>
<polygon fill="#000" stroke="#000" stroke-width="0.8" stroke-linejoin="round" points="378.3,76.4 384.3,76.4 386.4,74.3 392.9,74.3 392.9,78.6 391.4,81.4 394.3,83.6 398.6,85.0 398.9,87.9 395.7,88.6 391.4,86.7 388.6,83.6 386.4,85.7 387.1,89.3 388.6,92.4 392.1,93.3 392.9,97.1 390.0,97.6 387.9,95.7 385.0,96.4 384.3,94.3 380.3,94.7 380.0,91.4 382.6,89.3 380.7,85.7 381.4,82.1 379.3,80.0"/>
<polyline fill="none" stroke="#a8a6a2" stroke-width="1" stroke-linejoin="round" points="164.3,63.0 162.9,66.6 164.3,72.3 166.4,78.0 168.1,82.3 167.6,93.7 166.4,100.9 165.7,108.0 169.3,109.4 173.6,111.6 179.3,112.3 185.0,113.0 190.0,112.3 192.9,109.4 196.4,111.6 199.3,113.0 204.3,113.7 206.4,118.0 208.6,122.3 209.3,133.0"/>
<polyline fill="none" stroke="#a8a6a2" stroke-width="1" stroke-linejoin="round" points="94.7,63.0 91.4,69.4 87.9,75.1 88.6,83.7 85.0,95.1 82.1,105.1 80.4,111.6 85.0,115.1 89.3,120.9 92.1,126.6 96.4,133.0"/>
<polyline fill="none" stroke="#a8a6a2" stroke-width="1" stroke-linejoin="round" points="80.4,111.6 77.9,107.3 57.9,107.3 53.6,115.1 51.4,120.9 50.0,126.3 47.9,120.9 47.1,115.1 45.0,112.0 39.3,110.1"/>
<polyline fill="none" stroke="#a8a6a2" stroke-width="1" stroke-linejoin="round" points="97.1,133.0 103.6,138.7 109.3,143.0 112.1,147.3 120.7,150.9 127.9,153.7 135.0,156.6"/>
<polyline fill="none" stroke="#a8a6a2" stroke-width="1" stroke-linejoin="round" points="135.0,157.3 139.3,161.6 145.0,166.6 150.7,169.4 155.0,168.7 158.6,173.7 163.6,175.1 169.3,177.3 172.9,183.0 173.6,187.3 169.3,190.1 167.1,195.9 163.6,201.6 161.4,208.0"/>
<polyline fill="none" stroke="#a8a6a2" stroke-width="1" stroke-linejoin="round" points="210.4,133.0 210.7,141.6 212.9,149.4 217.1,152.3 222.1,150.9 227.9,147.3 232.9,151.6 233.6,161.6 230.7,173.0 227.9,183.0 226.4,193.0 225.7,201.6 224.3,208.0"/>
<polyline fill="none" stroke="#a8a6a2" stroke-width="1" stroke-linejoin="round" points="232.9,187.0 235.0,185.9"/>
<polyline fill="none" stroke="#a8a6a2" stroke-width="1" stroke-linejoin="round" points="235.0,186.6 237.9,186.6 240.7,189.4 242.1,195.9 243.6,201.6 244.3,208.0"/>
<polyline fill="none" stroke="#a8a6a2" stroke-width="1" stroke-linejoin="round" points="162.1,208.0 161.4,213.0 156.4,218.0 153.6,222.3 155.0,225.1 160.7,224.4 166.4,225.1 173.6,227.3 180.7,228.7 187.9,228.7 191.4,230.1 193.6,232.3 196.4,227.3 200.7,225.1 205.0,227.3 208.6,225.1 210.7,220.1 215.0,217.3 220.7,213.7 223.6,208.0"/>
<polyline fill="none" stroke="#a8a6a2" stroke-width="1" stroke-linejoin="round" points="235.0,225.9 227.9,229.4 222.1,232.3 219.3,236.6 213.6,240.9 207.9,245.9 205.7,247.3 207.9,249.4 203.6,250.1 197.9,258.0 192.1,265.1 187.9,272.3 182.1,279.4 178.6,281.6 178.6,283.0"/>
<polyline fill="none" stroke="#a8a6a2" stroke-width="1" stroke-linejoin="round" points="242.1,208.0 243.6,213.7 241.4,219.4 237.9,223.7 235.0,225.1"/>
<polyline fill="none" stroke="#a8a6a2" stroke-width="1" stroke-linejoin="round" points="177.9,283.0 176.4,287.3 172.9,290.9 167.9,297.3 169.3,304.4 166.4,311.6 163.6,318.0 165.7,324.4 161.4,327.3 162.9,333.0 162.9,339.4"/>
<polyline fill="none" stroke="#a8a6a2" stroke-width="1" stroke-linejoin="round" points="172.9,290.9 177.9,292.3 182.1,288.7 185.7,287.3 192.1,293.7 197.9,298.7 202.1,304.4 202.9,309.4 209.3,304.4 215.0,311.6 220.7,315.9 227.9,318.7 232.1,324.4 235.0,328.0"/>
<polyline fill="none" stroke="#a8a6a2" stroke-width="1" stroke-linejoin="round" points="235.0,328.0 237.9,328.0 242.1,332.3 245.0,338.7 249.3,343.0 253.6,344.4"/>
<polygon fill="#000" stroke="#000" stroke-width="0.8" stroke-linejoin="round" points="286.4,285.7 288.6,285.4 289.0,290.0 291.4,292.9 290.0,294.3 287.1,293.6 285.7,290.7"/>
<polygon fill="#000" stroke="#000" stroke-width="0.8" stroke-linejoin="round" points="270.0,327.9 273.6,325.0 275.7,328.6 273.6,333.6 270.7,334.3 269.3,331.4"/>
<polygon fill="#000" stroke="#000" stroke-width="0.8" stroke-linejoin="round" points="260.7,333.6 262.4,333.1 262.9,337.1 261.4,337.9"/>
<polygon fill="#000" stroke="#000" stroke-width="0.8" stroke-linejoin="round" points="259.3,348.6 262.9,347.1 263.6,351.4 262.4,355.0 259.3,355.0 257.1,351.4"/>
<polygon fill="#000" stroke="#000" stroke-width="0.8" stroke-linejoin="round" points="297.6,290.0 299.6,288.9 301.0,292.6 299.3,294.3"/>
<polygon fill="#000" stroke="#000" stroke-width="0.8" stroke-linejoin="round" points="331.8,198.5 335.2,196.0 338.0,200.7 336.4,205.5 333.3,203.6"/>
<polygon fill="#000" stroke="#000" stroke-width="0.8" stroke-linejoin="round" points="334.8,228.0 337.1,221.5 339.6,227.1 338.3,236.0 336.0,237.5"/>
<polygon fill="#000" stroke="#000" stroke-width="0.8" stroke-linejoin="round" points="330.3,248.8 332.7,246.8 334.0,251.8 331.6,253.2"/>
</g>
<!-- frame -->
<rect x="38" y="62" width="636" height="402" fill="none" stroke="#000" stroke-width="2" shape-rendering="crispEdges"/>
<!-- ticks -->
<g stroke="#000" stroke-width="1" id="ticks" shape-rendering="crispEdges"><line x1="35" y1="62.5" x2="37" y2="62.5"/><line x1="35" y1="106.5" x2="37" y2="106.5"/><line x1="35" y1="151.5" x2="37" y2="151.5"/><line x1="35" y1="196.5" x2="37" y2="196.5"/><line x1="35" y1="240.5" x2="37" y2="240.5"/><line x1="35" y1="285.5" x2="37" y2="285.5"/><line x1="35" y1="330.5" x2="37" y2="330.5"/><line x1="35" y1="374.5" x2="37" y2="374.5"/><line x1="35" y1="419.5" x2="37" y2="419.5"/><line x1="35" y1="464.5" x2="37" y2="464.5"/><line x1="74.5" y1="465" x2="74.5" y2="467"/><line x1="128.5" y1="465" x2="128.5" y2="467"/><line x1="183.5" y1="465" x2="183.5" y2="467"/><line x1="237.5" y1="465" x2="237.5" y2="467"/><line x1="292.5" y1="465" x2="292.5" y2="467"/><line x1="346.5" y1="465" x2="346.5" y2="467"/><line x1="401.5" y1="465" x2="401.5" y2="467"/><line x1="455.5" y1="465" x2="455.5" y2="467"/><line x1="510.5" y1="465" x2="510.5" y2="467"/><line x1="564.5" y1="465" x2="564.5" y2="467"/><line x1="619.5" y1="465" x2="619.5" y2="467"/><line x1="673.5" y1="465" x2="673.5" y2="467"/></g>
<!-- titles -->
<g class="t" filter="url(#idf)">
<text x="39.8" y="30.8" textLength="110.4" lengthAdjust="spacingAndGlyphs">Precipitation</text>
<text x="164" y="30.8" textLength="93.5" lengthAdjust="spacingAndGlyphs">(mm/3hr)</text>
<text x="39.8" y="52.6" textLength="31.2" lengthAdjust="spacingAndGlyphs">GFS</text>
<text x="87.6" y="52.6" textLength="30" lengthAdjust="spacingAndGlyphs">156</text>
<text x="130.7" y="52.6" textLength="40.7" lengthAdjust="spacingAndGlyphs">Hour</text>
<text x="183.4" y="52.6" textLength="78.4" lengthAdjust="spacingAndGlyphs">Forecast</text>
<text x="370" y="52.6" textLength="34" lengthAdjust="spacingAndGlyphs">Wed</text>
<text x="416.5" y="52.6" textLength="21.5" lengthAdjust="spacingAndGlyphs">24</text>
<text x="451.5" y="52.6" textLength="30" lengthAdjust="spacingAndGlyphs">Dec</text>
<text x="495" y="52.6" textLength="45.3" lengthAdjust="spacingAndGlyphs">2025</text>
<text x="594.5" y="52.6" textLength="21.8" lengthAdjust="spacingAndGlyphs">06</text>
<text x="630" y="52.6" textLength="32.3" lengthAdjust="spacingAndGlyphs">UTC</text>
</g>
<g class="t" filter="url(#idf)"><g transform="translate(693.1,373.8) rotate(-90)">
<text x="0" y="0" textLength="224.5" lengthAdjust="spacingAndGlyphs" style="font-size:16px">www.PassageWeather.com</text>
</g>
<circle cx="688.8" cy="389.5" r="6.3" fill="none" stroke="#000" stroke-width="1" style="stroke:#000;stroke-width:1px"/>
<path d="M691.8,392.6 A3.6,3.6 0 1 1 691.8,386.4" transform="rotate(-90 688.8 389.5)" fill="none" style="stroke:#000;stroke-width:1px"/>
</g>
<g id="axl" class="ax" filter="url(#idf)"><text x="32.5" y="66.4" text-anchor="end" textLength="16.5" lengthAdjust="spacingAndGlyphs">20S</text><text x="32.5" y="110.4" text-anchor="end" textLength="16.5" lengthAdjust="spacingAndGlyphs">22S</text><text x="32.5" y="155.4" text-anchor="end" textLength="16.5" lengthAdjust="spacingAndGlyphs">24S</text><text x="32.5" y="200.4" text-anchor="end" textLength="16.5" lengthAdjust="spacingAndGlyphs">26S</text><text x="32.5" y="244.4" text-anchor="end" textLength="16.5" lengthAdjust="spacingAndGlyphs">28S</text><text x="32.5" y="289.4" text-anchor="end" textLength="16.5" lengthAdjust="spacingAndGlyphs">30S</text><text x="32.5" y="334.4" text-anchor="end" textLength="16.5" lengthAdjust="spacingAndGlyphs">32S</text><text x="32.5" y="378.4" text-anchor="end" textLength="16.5" lengthAdjust="spacingAndGlyphs">34S</text><text x="32.5" y="423.4" text-anchor="end" textLength="16.5" lengthAdjust="spacingAndGlyphs">36S</text><text x="32.5" y="468.4" text-anchor="end" textLength="16.5" lengthAdjust="spacingAndGlyphs">38S</text><text x="74.5" y="476.2" text-anchor="middle" textLength="16.5" lengthAdjust="spacingAndGlyphs">63W</text><text x="128.5" y="476.2" text-anchor="middle" textLength="16.5" lengthAdjust="spacingAndGlyphs">60W</text><text x="183.5" y="476.2" text-anchor="middle" textLength="16.5" lengthAdjust="spacingAndGlyphs">57W</text><text x="237.5" y="476.2" text-anchor="middle" textLength="16.5" lengthAdjust="spacingAndGlyphs">54W</text><text x="292.5" y="476.2" text-anchor="middle" textLength="16.5" lengthAdjust="spacingAndGlyphs">51W</text><text x="346.5" y="476.2" text-anchor="middle" textLength="16.5" lengthAdjust="spacingAndGlyphs">48W</text><text x="401.5" y="476.2" text-anchor="middle" textLength="16.5" lengthAdjust="spacingAndGlyphs">45W</text><text x="455.5" y="476.2" text-anchor="middle" textLength="16.5" lengthAdjust="spacingAndGlyphs">42W</text><text x="510.5" y="476.2" text-anchor="middle" textLength="16.5" lengthAdjust="spacingAndGlyphs">39W</text><text x="564.5" y="476.2" text-anchor="middle" textLength="16.5" lengthAdjust="spacingAndGlyphs">36W</text><text x="619.5" y="476.2" text-anchor="middle" textLength="16.5" lengthAdjust="spacingAndGlyphs">33W</text><text x="673.5" y="476.2" text-anchor="middle" textLength="16.5" lengthAdjust="spacingAndGlyphs">30W</text></g>
<!-- colorbar -->
<g id="cbar" stroke="#000" stroke-width="1">
<polygon points="171.5,494.5 119.5,501.2 171.5,507.5" fill="#fff"/>
<rect x="171.5" y="494.5" width="51" height="13" fill="#e0e8f5"/>
<rect x="222.5" y="494.5" width="51" height="13" fill="#a5bfe2"/>
<rect x="273.5" y="494.5" width="51" height="13" fill="#6a97d2"/>
<rect x="324.5" y="494.5" width="51" height="13" fill="#33c896"/>
<rect x="375.5" y="494.5" width="51" height="13" fill="#64f564"/>
<rect x="426.5" y="494.5" width="51" height="13" fill="#ffe600"/>
<rect x="477.5" y="494.5" width="51" height="13" fill="#ff9600"/>
<polygon points="528.5,494.5 580.5,501.2 528.5,507.5" fill="#fa3c3c"/>
</g>
<g class="cb" text-anchor="middle" filter="url(#idf)">
<text x="171.5" y="521">0.1</text>
<text x="222.5" y="521">0.2</text>
<text x="273.5" y="521">0.5</text>
<text x="324.5" y="521">1</text>
<text x="375.5" y="521">2</text>
<text x="426.5" y="521">5</text>
<text x="477.5" y="521">10</text>
<text x="528.5" y="521">15</text>
</g>
</svg>
</body></html>
